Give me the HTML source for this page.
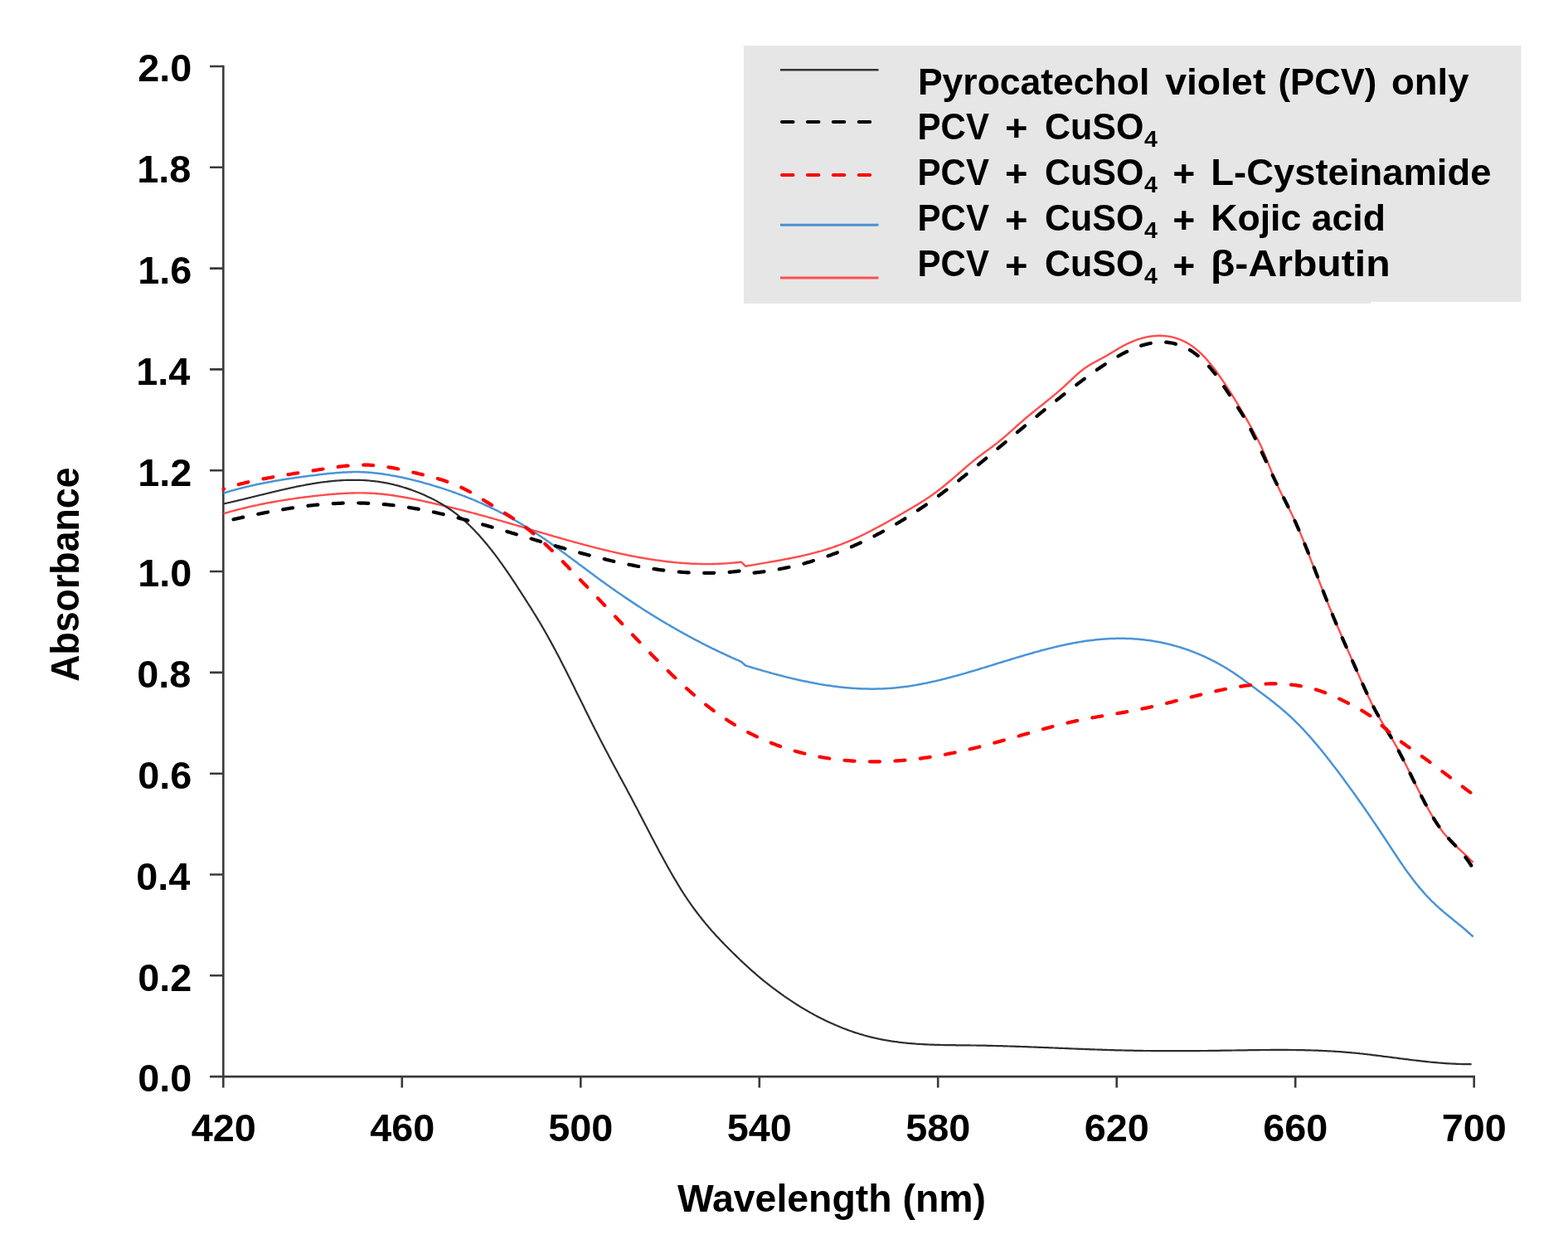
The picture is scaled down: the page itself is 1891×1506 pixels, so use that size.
<!DOCTYPE html><html><head><meta charset="utf-8"><style>html,body{margin:0;padding:0;background:#fff;overflow:hidden}svg{display:block}#w{width:1891px;height:1506px}</style></head><body>
<div id="w">
<svg width="1891" height="1506" viewBox="0 0 1891 1506">
<rect width="1891" height="1506" fill="#fff"/>
<path d="M897,55 H1834.5 V364 H1653 V366 H897 Z" fill="#e6e6e6"/>
<g stroke="#3a3a3a" stroke-width="2.6" fill="none" stroke-linecap="butt">
<path d="M269.3,78.7 V1298.1 H1779.0"/>
<path d="M253,1298.1 H269.3 M253,1176.3 H269.3 M253,1054.5 H269.3 M253,932.7 H269.3 M253,810.9 H269.3 M253,689.0 H269.3 M253,567.2 H269.3 M253,445.4 H269.3 M253,323.6 H269.3 M253,201.8 H269.3 M253,80.0 H269.3 M269.3,1298.1 V1311.5 M484.8,1298.1 V1311.5 M700.3,1298.1 V1311.5 M915.8,1298.1 V1311.5 M1131.2,1298.1 V1311.5 M1346.7,1298.1 V1311.5 M1562.2,1298.1 V1311.5 M1777.7,1298.1 V1311.5 "/>
</g>
<g font-family="Liberation Sans, Arial, sans-serif" font-weight="bold" fill="#000">
<text x="166.30" y="1316.40" font-size="46.8">0.0</text>
<text x="166.30" y="1194.59" font-size="46.8">0.2</text>
<text x="164.30" y="1072.78" font-size="46.8">0.4</text>
<text x="166.30" y="950.97" font-size="46.8">0.6</text>
<text x="165.30" y="829.16" font-size="46.8">0.8</text>
<text x="166.30" y="707.35" font-size="46.8">1.0</text>
<text x="166.30" y="585.54" font-size="46.8">1.2</text>
<text x="164.30" y="463.73" font-size="46.8">1.4</text>
<text x="166.30" y="341.92" font-size="46.8">1.6</text>
<text x="165.30" y="220.11" font-size="46.8">1.8</text>
<text x="166.30" y="98.30" font-size="46.8">2.0</text>
<text x="230.80" y="1376.40" font-size="46.8">420</text>
<text x="446.29" y="1376.40" font-size="46.8">460</text>
<text x="661.27" y="1376.40" font-size="46.8">500</text>
<text x="876.76" y="1376.40" font-size="46.8">540</text>
<text x="1092.24" y="1376.40" font-size="46.8">580</text>
<text x="1307.73" y="1376.40" font-size="46.8">620</text>
<text x="1523.21" y="1376.40" font-size="46.8">660</text>
<text x="1738.70" y="1376.40" font-size="46.8">700</text>
<text x="816.90" y="1461.30" font-size="46" textLength="372.08" lengthAdjust="spacingAndGlyphs">Wavelength (nm)</text>
<text x="94.80" y="821.84" font-size="47.5" textLength="258.38" lengthAdjust="spacingAndGlyphs" transform="rotate(-90 94.80 821.84)">Absorbance</text>
<text x="1106.93" y="113.90" font-size="43.5" textLength="279.34" lengthAdjust="spacingAndGlyphs">Pyrocatechol</text>
<text x="1405.20" y="113.90" font-size="43.5" textLength="121.17" lengthAdjust="spacingAndGlyphs">violet</text>
<text x="1541.59" y="113.90" font-size="43.5" textLength="118.73" lengthAdjust="spacingAndGlyphs">(PCV)</text>
<text x="1677.91" y="113.90" font-size="43.5" textLength="93.53" lengthAdjust="spacingAndGlyphs">only</text>
<text x="1106.60" y="167.90" font-size="43.5" textLength="86.33" lengthAdjust="spacingAndGlyphs">PCV</text>
<text x="1212.14" y="170.40" font-size="43.5" textLength="27.48" lengthAdjust="spacingAndGlyphs">+</text>
<text x="1260.03" y="167.90" font-size="43.5" textLength="119.29" lengthAdjust="spacingAndGlyphs">CuSO</text>
<text x="1380.00" y="176.60" font-size="27.5" textLength="15.91" lengthAdjust="spacingAndGlyphs">4</text>
<text x="1106.60" y="222.90" font-size="43.5" textLength="86.33" lengthAdjust="spacingAndGlyphs">PCV</text>
<text x="1212.14" y="225.40" font-size="43.5" textLength="27.48" lengthAdjust="spacingAndGlyphs">+</text>
<text x="1260.03" y="222.90" font-size="43.5" textLength="119.29" lengthAdjust="spacingAndGlyphs">CuSO</text>
<text x="1380.00" y="231.60" font-size="27.5" textLength="15.91" lengthAdjust="spacingAndGlyphs">4</text>
<text x="1414.27" y="225.40" font-size="43.5" textLength="27.02" lengthAdjust="spacingAndGlyphs">+</text>
<text x="1106.60" y="278.20" font-size="43.5" textLength="86.33" lengthAdjust="spacingAndGlyphs">PCV</text>
<text x="1212.14" y="280.70" font-size="43.5" textLength="27.48" lengthAdjust="spacingAndGlyphs">+</text>
<text x="1260.03" y="278.20" font-size="43.5" textLength="119.29" lengthAdjust="spacingAndGlyphs">CuSO</text>
<text x="1380.00" y="286.90" font-size="27.5" textLength="15.91" lengthAdjust="spacingAndGlyphs">4</text>
<text x="1414.27" y="280.70" font-size="43.5" textLength="27.02" lengthAdjust="spacingAndGlyphs">+</text>
<text x="1106.60" y="333.20" font-size="43.5" textLength="86.33" lengthAdjust="spacingAndGlyphs">PCV</text>
<text x="1212.14" y="335.70" font-size="43.5" textLength="27.48" lengthAdjust="spacingAndGlyphs">+</text>
<text x="1260.03" y="333.20" font-size="43.5" textLength="119.29" lengthAdjust="spacingAndGlyphs">CuSO</text>
<text x="1380.00" y="341.90" font-size="27.5" textLength="15.91" lengthAdjust="spacingAndGlyphs">4</text>
<text x="1414.27" y="335.70" font-size="43.5" textLength="27.02" lengthAdjust="spacingAndGlyphs">+</text>
<text x="1460.37" y="222.90" font-size="43.5" textLength="338.04" lengthAdjust="spacingAndGlyphs">L-Cysteinamide</text>
<text x="1460.22" y="278.20" font-size="43.5" textLength="210.72" lengthAdjust="spacingAndGlyphs">Kojic acid</text>
<text x="1459.98" y="333.20" font-size="43.5" textLength="216.68" lengthAdjust="spacingAndGlyphs">β-Arbutin</text>
</g>
<path d="M941,84.3 H1059.5" stroke="#333" stroke-width="2.6"/>
<path d="M943,146.9 H1051" stroke="#000" stroke-width="4" stroke-linecap="round" stroke-dasharray="13.5 17.4"/>
<path d="M943,210.9 H1051" stroke="#ff0000" stroke-width="4" stroke-linecap="round" stroke-dasharray="13.5 17.4"/>
<path d="M941,271.3 H1059.5" stroke="#4a8fd2" stroke-width="3"/>
<path d="M941,335.0 H1059.5" stroke="#fa4f4f" stroke-width="3"/>
<g fill="none" stroke-linejoin="round">
<path d="M269.5,619.3 L271.0,618.9 L272.5,618.4 L274.0,618.0 L275.5,617.6 L277.0,617.1 L278.5,616.7 L280.0,616.3 L281.5,615.9 L283.0,615.5 L284.5,615.1 L286.0,614.7 L287.5,614.3 L289.0,613.9 L290.5,613.6 L292.0,613.2 L293.5,612.8 L295.0,612.5 L296.5,612.1 L298.0,611.7 L299.5,611.4 L301.0,611.0 L302.5,610.7 L304.0,610.4 L305.5,610.0 L307.0,609.7 L308.5,609.4 L310.0,609.1 L311.5,608.7 L313.0,608.4 L314.5,608.1 L316.0,607.8 L317.5,607.5 L319.0,607.2 L320.5,606.9 L322.0,606.6 L323.5,606.3 L325.0,606.1 L326.5,605.8 L328.0,605.5 L329.5,605.2 L331.0,605.0 L332.5,604.7 L334.0,604.4 L335.5,604.2 L337.0,603.9 L338.5,603.7 L340.0,603.4 L341.5,603.2 L343.0,602.9 L344.5,602.7 L346.0,602.5 L347.5,602.2 L349.0,602.0 L350.5,601.8 L352.0,601.6 L353.5,601.4 L355.0,601.1 L356.5,600.9 L358.0,600.7 L359.5,600.5 L361.0,600.3 L362.5,600.1 L364.0,599.9 L365.5,599.7 L367.0,599.5 L368.5,599.3 L370.0,599.1 L371.5,599.0 L373.0,598.8 L374.5,598.6 L376.0,598.4 L377.5,598.2 L379.0,598.1 L380.5,597.9 L382.0,597.7 L383.5,597.6 L385.0,597.4 L386.5,597.2 L388.0,597.1 L389.5,596.9 L391.0,596.8 L392.5,596.6 L394.0,596.5 L395.5,596.3 L397.0,596.2 L398.5,596.1 L400.0,595.9 L401.5,595.8 L403.0,595.7 L404.5,595.6 L406.0,595.5 L407.5,595.4 L409.0,595.2 L410.5,595.2 L412.0,595.1 L413.5,595.0 L415.0,594.9 L416.5,594.8 L418.0,594.7 L419.5,594.7 L421.0,594.6 L422.5,594.6 L424.0,594.5 L425.5,594.5 L427.0,594.5 L428.5,594.4 L430.0,594.4 L431.5,594.4 L433.0,594.4 L434.5,594.4 L436.0,594.4 L437.5,594.4 L439.0,594.4 L440.5,594.5 L442.0,594.5 L443.5,594.6 L445.0,594.6 L446.5,594.7 L448.0,594.8 L449.5,594.9 L451.0,594.9 L452.5,595.0 L454.0,595.2 L455.5,595.3 L457.0,595.4 L458.5,595.5 L460.0,595.7 L461.5,595.8 L463.0,596.0 L464.5,596.2 L466.0,596.3 L467.5,596.5 L469.0,596.7 L470.5,596.9 L472.0,597.1 L473.5,597.3 L475.0,597.5 L476.5,597.8 L478.0,598.0 L479.5,598.2 L481.0,598.5 L482.5,598.7 L484.0,599.0 L485.5,599.2 L487.0,599.5 L488.5,599.8 L490.0,600.0 L491.5,600.3 L493.0,600.6 L494.5,600.9 L496.0,601.2 L497.5,601.5 L499.0,601.8 L500.5,602.1 L502.0,602.4 L503.5,602.7 L505.0,603.0 L506.5,603.3 L508.0,603.6 L509.5,604.0 L511.0,604.3 L512.5,604.6 L514.0,605.0 L515.5,605.3 L517.0,605.6 L518.5,606.0 L520.0,606.3 L521.5,606.6 L523.0,607.0 L524.5,607.3 L526.0,607.7 L527.5,608.0 L529.0,608.4 L530.5,608.7 L532.0,609.0 L533.5,609.4 L535.0,609.7 L536.5,610.1 L538.0,610.5 L539.5,610.8 L541.0,611.2 L542.5,611.5 L544.0,611.9 L545.5,612.3 L547.0,612.6 L548.5,613.0 L550.0,613.4 L551.5,613.7 L553.0,614.1 L554.5,614.5 L556.0,614.8 L557.5,615.2 L559.0,615.6 L560.5,616.0 L562.0,616.4 L563.5,616.8 L565.0,617.2 L566.5,617.5 L568.0,617.9 L569.5,618.3 L571.0,618.7 L572.5,619.1 L574.0,619.5 L575.5,619.9 L577.0,620.4 L578.5,620.8 L580.0,621.2 L581.5,621.6 L583.0,622.0 L584.5,622.4 L586.0,622.8 L587.5,623.2 L589.0,623.7 L590.5,624.1 L592.0,624.5 L593.5,624.9 L595.0,625.3 L596.5,625.8 L598.0,626.2 L599.5,626.6 L601.0,627.1 L602.5,627.5 L604.0,627.9 L605.5,628.3 L607.0,628.8 L608.5,629.2 L610.0,629.6 L611.5,630.1 L613.0,630.5 L614.5,631.0 L616.0,631.4 L617.5,631.8 L619.0,632.3 L620.5,632.7 L622.0,633.1 L623.5,633.6 L625.0,634.0 L626.5,634.5 L628.0,634.9 L629.5,635.3 L631.0,635.8 L632.5,636.2 L634.0,636.7 L635.5,637.1 L637.0,637.6 L638.5,638.0 L640.0,638.4 L641.5,638.9 L643.0,639.3 L644.5,639.8 L646.0,640.2 L647.5,640.7 L649.0,641.1 L650.5,641.5 L652.0,642.0 L653.5,642.4 L655.0,642.9 L656.5,643.3 L658.0,643.7 L659.5,644.2 L661.0,644.6 L662.5,645.0 L664.0,645.5 L665.5,645.9 L667.0,646.4 L668.5,646.8 L670.0,647.2 L671.5,647.7 L673.0,648.1 L674.5,648.5 L676.0,648.9 L677.5,649.4 L679.0,649.8 L680.5,650.2 L682.0,650.6 L683.5,651.1 L685.0,651.5 L686.5,651.9 L688.0,652.3 L689.5,652.7 L691.0,653.2 L692.5,653.6 L694.0,654.0 L695.5,654.4 L697.0,654.8 L698.5,655.2 L700.0,655.6 L701.5,656.0 L703.0,656.4 L704.5,656.8 L706.0,657.2 L707.5,657.6 L709.0,658.0 L710.5,658.4 L712.0,658.8 L713.5,659.2 L715.0,659.6 L716.5,660.0 L718.0,660.4 L719.5,660.7 L721.0,661.1 L722.5,661.5 L724.0,661.9 L725.5,662.2 L727.0,662.6 L728.5,663.0 L730.0,663.3 L731.5,663.7 L733.0,664.0 L734.5,664.4 L736.0,664.7 L737.5,665.1 L739.0,665.4 L740.5,665.8 L742.0,666.1 L743.5,666.5 L745.0,666.8 L746.5,667.1 L748.0,667.5 L749.5,667.8 L751.0,668.1 L752.5,668.4 L754.0,668.7 L755.5,669.0 L757.0,669.4 L758.5,669.7 L760.0,670.0 L761.5,670.3 L763.0,670.6 L764.5,670.8 L766.0,671.1 L767.5,671.4 L769.0,671.7 L770.5,672.0 L772.0,672.2 L773.5,672.5 L775.0,672.8 L776.5,673.0 L778.0,673.3 L779.5,673.5 L781.0,673.8 L782.5,674.0 L784.0,674.3 L785.5,674.5 L787.0,674.7 L788.5,675.0 L790.0,675.2 L791.5,675.4 L793.0,675.6 L794.5,675.8 L796.0,676.0 L797.5,676.2 L799.0,676.4 L800.5,676.6 L802.0,676.8 L803.5,677.0 L805.0,677.2 L806.5,677.4 L808.0,677.5 L809.5,677.7 L811.0,677.8 L812.5,678.0 L814.0,678.1 L815.5,678.3 L817.0,678.4 L818.5,678.6 L820.0,678.7 L821.5,678.8 L823.0,678.9 L824.5,679.0 L826.0,679.1 L827.5,679.2 L829.0,679.3 L830.5,679.4 L832.0,679.5 L833.5,679.6 L835.0,679.7 L836.5,679.7 L838.0,679.8 L839.5,679.8 L841.0,679.9 L842.5,679.9 L844.0,680.0 L845.5,680.0 L847.0,680.0 L848.5,680.1 L850.0,680.1 L851.5,680.1 L853.0,680.1 L854.5,680.1 L856.0,680.1 L857.5,680.1 L859.0,680.0 L860.5,680.0 L862.0,680.0 L863.5,679.9 L865.0,679.9 L866.5,679.8 L868.0,679.8 L869.5,679.7 L871.0,679.6 L872.5,679.5 L874.0,679.4 L875.5,679.4 L877.0,679.3 L878.5,679.1 L880.0,679.0 L881.5,678.9 L883.0,678.8 L884.5,678.6 L886.0,678.5 L887.5,678.3 L889.0,678.2 L890.5,678.0 L892.0,677.8 L893.5,677.7 L894.0,677.6 L899.0,682.7 L900.5,682.5 L902.0,682.2 L903.5,681.9 L905.0,681.7 L906.5,681.4 L908.0,681.2 L909.5,680.9 L911.0,680.7 L912.5,680.4 L914.0,680.1 L915.5,679.9 L917.0,679.6 L918.5,679.4 L920.0,679.1 L921.5,678.9 L923.0,678.6 L924.5,678.4 L926.0,678.1 L927.5,677.8 L929.0,677.6 L930.5,677.3 L932.0,677.1 L933.5,676.8 L935.0,676.5 L936.5,676.3 L938.0,676.0 L939.5,675.7 L941.0,675.5 L942.5,675.2 L944.0,674.9 L945.5,674.6 L947.0,674.3 L948.5,674.1 L950.0,673.8 L951.5,673.5 L953.0,673.2 L954.5,672.9 L956.0,672.6 L957.5,672.3 L959.0,672.0 L960.5,671.7 L962.0,671.3 L963.5,671.0 L965.0,670.7 L966.5,670.4 L968.0,670.0 L969.5,669.7 L971.0,669.3 L972.5,669.0 L974.0,668.6 L975.5,668.2 L977.0,667.9 L978.5,667.5 L980.0,667.1 L981.5,666.7 L983.0,666.3 L984.5,665.9 L986.0,665.5 L987.5,665.1 L989.0,664.7 L990.5,664.3 L992.0,663.8 L993.5,663.4 L995.0,662.9 L996.5,662.5 L998.0,662.0 L999.5,661.5 L1001.0,661.0 L1002.5,660.6 L1004.0,660.1 L1005.5,659.5 L1007.0,659.0 L1008.5,658.5 L1010.0,658.0 L1011.5,657.4 L1013.0,656.9 L1014.5,656.3 L1016.0,655.7 L1017.5,655.1 L1019.0,654.5 L1020.5,653.9 L1022.0,653.3 L1023.5,652.7 L1025.0,652.1 L1026.5,651.4 L1028.0,650.8 L1029.5,650.1 L1031.0,649.4 L1032.5,648.8 L1034.0,648.1 L1035.5,647.4 L1037.0,646.7 L1038.5,646.0 L1040.0,645.2 L1041.5,644.5 L1043.0,643.8 L1044.5,643.0 L1046.0,642.3 L1047.5,641.5 L1049.0,640.7 L1050.5,640.0 L1052.0,639.2 L1053.5,638.4 L1055.0,637.6 L1056.5,636.8 L1058.0,636.0 L1059.5,635.2 L1061.0,634.4 L1062.5,633.6 L1064.0,632.8 L1065.5,632.0 L1067.0,631.1 L1068.5,630.3 L1070.0,629.5 L1071.5,628.6 L1073.0,627.8 L1074.5,626.9 L1076.0,626.1 L1077.5,625.2 L1079.0,624.4 L1080.5,623.5 L1082.0,622.6 L1083.5,621.8 L1085.0,620.9 L1086.5,620.0 L1088.0,619.2 L1089.5,618.3 L1091.0,617.4 L1092.5,616.6 L1094.0,615.7 L1095.5,614.8 L1097.0,613.9 L1098.5,613.1 L1100.0,612.2 L1101.5,611.3 L1103.0,610.4 L1104.5,609.5 L1106.0,608.6 L1107.5,607.7 L1109.0,606.8 L1110.5,605.9 L1112.0,604.9 L1113.5,604.0 L1115.0,603.0 L1116.5,602.1 L1118.0,601.1 L1119.5,600.1 L1121.0,599.0 L1122.5,598.0 L1124.0,596.9 L1125.5,595.9 L1127.0,594.8 L1128.5,593.7 L1130.0,592.5 L1131.5,591.4 L1133.0,590.2 L1134.5,589.1 L1136.0,587.9 L1137.5,586.7 L1139.0,585.5 L1140.5,584.2 L1142.0,583.0 L1143.5,581.8 L1145.0,580.5 L1146.5,579.2 L1148.0,578.0 L1149.5,576.7 L1151.0,575.4 L1152.5,574.1 L1154.0,572.8 L1155.5,571.5 L1157.0,570.2 L1158.5,568.9 L1160.0,567.6 L1161.5,566.3 L1163.0,565.0 L1164.5,563.7 L1166.0,562.4 L1167.5,561.1 L1169.0,559.8 L1170.5,558.6 L1172.0,557.3 L1173.5,556.1 L1175.0,554.9 L1176.5,553.7 L1178.0,552.5 L1179.5,551.3 L1181.0,550.2 L1182.5,549.1 L1184.0,548.0 L1185.5,546.8 L1187.0,545.7 L1188.5,544.6 L1190.0,543.6 L1191.5,542.5 L1193.0,541.4 L1194.5,540.3 L1196.0,539.2 L1197.5,538.0 L1199.0,536.9 L1200.5,535.8 L1202.0,534.6 L1203.5,533.4 L1205.0,532.2 L1206.5,531.0 L1208.0,529.7 L1209.5,528.5 L1211.0,527.2 L1212.5,525.9 L1214.0,524.6 L1215.5,523.3 L1217.0,521.9 L1218.5,520.6 L1220.0,519.3 L1221.5,517.9 L1223.0,516.6 L1224.5,515.2 L1226.0,513.9 L1227.5,512.5 L1229.0,511.2 L1230.5,509.9 L1232.0,508.6 L1233.5,507.3 L1235.0,506.0 L1236.5,504.7 L1238.0,503.4 L1239.5,502.2 L1241.0,500.9 L1242.5,499.7 L1244.0,498.5 L1245.5,497.3 L1247.0,496.1 L1248.5,494.8 L1250.0,493.6 L1251.5,492.4 L1253.0,491.2 L1254.5,490.0 L1256.0,488.9 L1257.5,487.7 L1259.0,486.5 L1260.5,485.3 L1262.0,484.0 L1263.5,482.8 L1265.0,481.6 L1266.5,480.4 L1268.0,479.2 L1269.5,477.9 L1271.0,476.7 L1272.5,475.4 L1274.0,474.2 L1275.5,472.9 L1277.0,471.6 L1278.5,470.3 L1280.0,469.0 L1281.5,467.6 L1283.0,466.3 L1284.5,464.9 L1286.0,463.5 L1287.5,462.1 L1289.0,460.7 L1290.5,459.3 L1292.0,457.9 L1293.5,456.5 L1295.0,455.1 L1296.5,453.7 L1298.0,452.3 L1299.5,451.0 L1301.0,449.7 L1302.5,448.4 L1304.0,447.2 L1305.5,446.0 L1307.0,444.9 L1308.5,443.8 L1310.0,442.8 L1311.5,441.8 L1313.0,440.8 L1314.5,439.9 L1316.0,439.0 L1317.5,438.1 L1319.0,437.3 L1320.5,436.5 L1322.0,435.7 L1323.5,434.9 L1325.0,434.1 L1326.5,433.3 L1328.0,432.5 L1329.5,431.7 L1331.0,430.9 L1332.5,430.0 L1334.0,429.2 L1335.5,428.3 L1337.0,427.4 L1338.5,426.5 L1340.0,425.6 L1341.5,424.7 L1343.0,423.8 L1344.5,422.9 L1346.0,422.0 L1347.5,421.1 L1349.0,420.2 L1350.5,419.3 L1352.0,418.5 L1353.5,417.6 L1355.0,416.8 L1356.5,416.0 L1358.0,415.3 L1359.5,414.5 L1361.0,413.8 L1362.5,413.1 L1364.0,412.5 L1365.5,411.8 L1367.0,411.2 L1368.5,410.6 L1370.0,410.1 L1371.5,409.5 L1373.0,409.0 L1374.5,408.6 L1376.0,408.1 L1377.5,407.7 L1379.0,407.3 L1380.5,406.9 L1382.0,406.6 L1383.5,406.3 L1385.0,406.0 L1386.5,405.8 L1388.0,405.5 L1389.5,405.4 L1391.0,405.2 L1392.5,405.1 L1394.0,405.0 L1395.5,404.9 L1397.0,404.8 L1398.5,404.8 L1400.0,404.8 L1401.5,404.9 L1403.0,405.0 L1404.5,405.1 L1406.0,405.2 L1407.5,405.4 L1409.0,405.6 L1410.5,405.8 L1412.0,406.1 L1413.5,406.4 L1415.0,406.8 L1416.5,407.2 L1418.0,407.6 L1419.5,408.1 L1421.0,408.6 L1422.5,409.2 L1424.0,409.8 L1425.5,410.4 L1427.0,411.1 L1428.5,411.9 L1430.0,412.6 L1431.5,413.5 L1433.0,414.3 L1434.5,415.3 L1436.0,416.2 L1437.5,417.3 L1439.0,418.3 L1440.5,419.5 L1442.0,420.6 L1443.5,421.9 L1445.0,423.2 L1446.5,424.5 L1448.0,425.9 L1449.5,427.3 L1451.0,428.9 L1452.5,430.4 L1454.0,432.0 L1455.5,433.7 L1457.0,435.4 L1458.5,437.2 L1460.0,439.0 L1461.5,440.9 L1463.0,442.8 L1464.5,444.8 L1466.0,446.8 L1467.5,448.8 L1469.0,450.9 L1470.5,453.0 L1472.0,455.2 L1473.5,457.3 L1475.0,459.6 L1476.5,461.8 L1478.0,464.1 L1479.5,466.3 L1481.0,468.7 L1482.5,471.0 L1484.0,473.3 L1485.5,475.7 L1487.0,478.1 L1488.5,480.5 L1490.0,483.0 L1491.5,485.4 L1493.0,487.9 L1494.5,490.4 L1496.0,492.9 L1497.5,495.4 L1499.0,498.0 L1500.5,500.5 L1502.0,503.1 L1503.5,505.7 L1505.0,508.3 L1506.5,511.0 L1508.0,513.7 L1509.5,516.3 L1511.0,519.0 L1512.5,521.8 L1514.0,524.5 L1515.5,527.3 L1517.0,530.2 L1518.5,533.2 L1520.0,536.3 L1521.5,539.5 L1523.0,542.9 L1524.5,546.4 L1526.0,550.0 L1527.5,553.7 L1529.0,557.4 L1530.5,561.2 L1532.0,564.9 L1533.5,568.7 L1535.0,572.3 L1536.5,576.0 L1538.0,579.5 L1539.5,582.9 L1541.0,586.2 L1542.5,589.3 L1544.0,592.5 L1545.5,595.5 L1547.0,598.5 L1548.5,601.5 L1550.0,604.4 L1551.5,607.3 L1553.0,610.2 L1554.5,613.2 L1556.0,616.2 L1557.5,619.2 L1559.0,622.2 L1560.5,625.4 L1562.0,628.6 L1563.5,631.9 L1565.0,635.3 L1566.5,638.8 L1568.0,642.4 L1569.5,646.0 L1571.0,649.7 L1572.5,653.4 L1574.0,657.2 L1575.5,661.0 L1577.0,664.9 L1578.5,668.8 L1580.0,672.7 L1581.5,676.6 L1583.0,680.5 L1584.5,684.4 L1586.0,688.3 L1587.5,692.2 L1589.0,696.0 L1590.5,699.9 L1592.0,703.7 L1593.5,707.5 L1595.0,711.3 L1596.5,715.1 L1598.0,718.9 L1599.5,722.6 L1601.0,726.3 L1602.5,730.0 L1604.0,733.7 L1605.5,737.3 L1607.0,741.0 L1608.5,744.6 L1610.0,748.1 L1611.5,751.7 L1613.0,755.2 L1614.5,758.7 L1616.0,762.2 L1617.5,765.7 L1619.0,769.2 L1620.5,772.6 L1622.0,776.1 L1623.5,779.5 L1625.0,782.9 L1626.5,786.4 L1628.0,789.8 L1629.5,793.2 L1631.0,796.6 L1632.5,800.1 L1634.0,803.5 L1635.5,807.0 L1637.0,810.4 L1638.5,813.8 L1640.0,817.3 L1641.5,820.7 L1643.0,824.1 L1644.5,827.4 L1646.0,830.7 L1647.5,834.0 L1649.0,837.3 L1650.5,840.5 L1652.0,843.6 L1653.5,846.7 L1655.0,849.7 L1656.5,852.6 L1658.0,855.5 L1659.5,858.3 L1661.0,861.0 L1662.5,863.6 L1664.0,866.2 L1665.5,868.8 L1667.0,871.3 L1668.5,873.8 L1670.0,876.2 L1671.5,878.7 L1673.0,881.2 L1674.5,883.7 L1676.0,886.1 L1677.5,888.7 L1679.0,891.2 L1680.5,893.8 L1682.0,896.5 L1683.5,899.2 L1685.0,901.9 L1686.5,904.7 L1688.0,907.6 L1689.5,910.5 L1691.0,913.4 L1692.5,916.3 L1694.0,919.3 L1695.5,922.3 L1697.0,925.3 L1698.5,928.3 L1700.0,931.3 L1701.5,934.4 L1703.0,937.4 L1704.5,940.5 L1706.0,943.5 L1707.5,946.5 L1709.0,949.5 L1710.5,952.5 L1712.0,955.5 L1713.5,958.5 L1715.0,961.4 L1716.5,964.3 L1718.0,967.2 L1719.5,970.0 L1721.0,972.8 L1722.5,975.6 L1724.0,978.3 L1725.5,980.9 L1727.0,983.5 L1728.5,986.0 L1730.0,988.5 L1731.5,990.9 L1733.0,993.2 L1734.5,995.5 L1736.0,997.6 L1737.5,999.7 L1739.0,1001.7 L1740.5,1003.7 L1742.0,1005.5 L1743.5,1007.3 L1745.0,1009.0 L1746.5,1010.7 L1748.0,1012.3 L1749.5,1013.9 L1751.0,1015.4 L1752.5,1016.9 L1754.0,1018.4 L1755.5,1019.8 L1757.0,1021.2 L1758.5,1022.6 L1760.0,1024.0 L1761.5,1025.4 L1763.0,1026.8 L1764.5,1028.2 L1766.0,1029.6 L1767.5,1031.0 L1769.0,1032.4 L1770.5,1033.8 L1772.0,1035.3 L1773.5,1036.8 L1775.0,1038.3 L1776.5,1039.9 L1776.6,1040.0" stroke="#ff4d4d" stroke-width="2.4"/>
<path d="M269.5,607.5 L271.0,607.2 L272.5,606.8 L274.0,606.5 L275.5,606.2 L277.0,605.8 L278.5,605.5 L280.0,605.1 L281.5,604.8 L283.0,604.4 L284.5,604.1 L286.0,603.7 L287.5,603.4 L289.0,603.0 L290.5,602.7 L292.0,602.3 L293.5,602.0 L295.0,601.6 L296.5,601.2 L298.0,600.9 L299.5,600.5 L301.0,600.1 L302.5,599.8 L304.0,599.4 L305.5,599.0 L307.0,598.7 L308.5,598.3 L310.0,597.9 L311.5,597.5 L313.0,597.2 L314.5,596.8 L316.0,596.4 L317.5,596.1 L319.0,595.7 L320.5,595.3 L322.0,595.0 L323.5,594.6 L325.0,594.2 L326.5,593.9 L328.0,593.5 L329.5,593.1 L331.0,592.8 L332.5,592.4 L334.0,592.1 L335.5,591.7 L337.0,591.4 L338.5,591.0 L340.0,590.7 L341.5,590.3 L343.0,590.0 L344.5,589.6 L346.0,589.3 L347.5,589.0 L349.0,588.6 L350.5,588.3 L352.0,588.0 L353.5,587.7 L355.0,587.4 L356.5,587.0 L358.0,586.7 L359.5,586.4 L361.0,586.1 L362.5,585.8 L364.0,585.5 L365.5,585.3 L367.0,585.0 L368.5,584.7 L370.0,584.4 L371.5,584.1 L373.0,583.9 L374.5,583.6 L376.0,583.4 L377.5,583.1 L379.0,582.9 L380.5,582.6 L382.0,582.4 L383.5,582.2 L385.0,582.0 L386.5,581.7 L388.0,581.5 L389.5,581.3 L391.0,581.1 L392.5,581.0 L394.0,580.8 L395.5,580.6 L397.0,580.4 L398.5,580.3 L400.0,580.1 L401.5,580.0 L403.0,579.8 L404.5,579.7 L406.0,579.6 L407.5,579.5 L409.0,579.4 L410.5,579.3 L412.0,579.2 L413.5,579.1 L415.0,579.0 L416.5,579.0 L418.0,578.9 L419.5,578.9 L421.0,578.8 L422.5,578.8 L424.0,578.8 L425.5,578.8 L427.0,578.8 L428.5,578.8 L430.0,578.8 L431.5,578.8 L433.0,578.8 L434.5,578.9 L436.0,579.0 L437.5,579.0 L439.0,579.1 L440.5,579.2 L442.0,579.3 L443.5,579.4 L445.0,579.5 L446.5,579.7 L448.0,579.8 L449.5,580.0 L451.0,580.1 L452.5,580.3 L454.0,580.5 L455.5,580.7 L457.0,580.9 L458.5,581.1 L460.0,581.4 L461.5,581.6 L463.0,581.9 L464.5,582.2 L466.0,582.4 L467.5,582.7 L469.0,583.0 L470.5,583.4 L472.0,583.7 L473.5,584.0 L475.0,584.4 L476.5,584.8 L478.0,585.1 L479.5,585.5 L481.0,585.9 L482.5,586.4 L484.0,586.8 L485.5,587.2 L487.0,587.7 L488.5,588.1 L490.0,588.6 L491.5,589.1 L493.0,589.6 L494.5,590.1 L496.0,590.6 L497.5,591.2 L499.0,591.7 L500.5,592.3 L502.0,592.9 L503.5,593.5 L505.0,594.1 L506.5,594.7 L508.0,595.3 L509.5,596.0 L511.0,596.6 L512.5,597.3 L514.0,598.0 L515.5,598.7 L517.0,599.4 L518.5,600.1 L520.0,600.8 L521.5,601.6 L523.0,602.3 L524.5,603.1 L526.0,603.9 L527.5,604.7 L529.0,605.6 L530.5,606.4 L532.0,607.3 L533.5,608.2 L535.0,609.1 L536.5,610.0 L538.0,611.0 L539.5,612.0 L541.0,613.0 L542.5,614.0 L544.0,615.0 L545.5,616.1 L547.0,617.2 L548.5,618.3 L550.0,619.4 L551.5,620.6 L553.0,621.8 L554.5,623.0 L556.0,624.2 L557.5,625.5 L559.0,626.8 L560.5,628.1 L562.0,629.5 L563.5,630.9 L565.0,632.3 L566.5,633.7 L568.0,635.2 L569.5,636.7 L571.0,638.2 L572.5,639.8 L574.0,641.4 L575.5,643.0 L577.0,644.6 L578.5,646.3 L580.0,648.0 L581.5,649.7 L583.0,651.4 L584.5,653.2 L586.0,655.0 L587.5,656.8 L589.0,658.6 L590.5,660.5 L592.0,662.4 L593.5,664.3 L595.0,666.2 L596.5,668.2 L598.0,670.2 L599.5,672.2 L601.0,674.2 L602.5,676.3 L604.0,678.3 L605.5,680.4 L607.0,682.6 L608.5,684.7 L610.0,686.9 L611.5,689.0 L613.0,691.2 L614.5,693.4 L616.0,695.7 L617.5,697.9 L619.0,700.2 L620.5,702.4 L622.0,704.7 L623.5,707.0 L625.0,709.3 L626.5,711.6 L628.0,713.9 L629.5,716.3 L631.0,718.6 L632.5,720.9 L634.0,723.3 L635.5,725.6 L637.0,728.0 L638.5,730.3 L640.0,732.7 L641.5,735.1 L643.0,737.5 L644.5,740.0 L646.0,742.4 L647.5,744.9 L649.0,747.3 L650.5,749.8 L652.0,752.3 L653.5,754.9 L655.0,757.5 L656.5,760.0 L658.0,762.7 L659.5,765.3 L661.0,768.0 L662.5,770.7 L664.0,773.4 L665.5,776.2 L667.0,778.9 L668.5,781.7 L670.0,784.5 L671.5,787.4 L673.0,790.3 L674.5,793.1 L676.0,796.0 L677.5,799.0 L679.0,801.9 L680.5,804.8 L682.0,807.8 L683.5,810.8 L685.0,813.8 L686.5,816.8 L688.0,819.8 L689.5,822.8 L691.0,825.8 L692.5,828.8 L694.0,831.9 L695.5,834.9 L697.0,837.9 L698.5,841.0 L700.0,844.0 L701.5,847.1 L703.0,850.1 L704.5,853.1 L706.0,856.2 L707.5,859.2 L709.0,862.2 L710.5,865.2 L712.0,868.3 L713.5,871.3 L715.0,874.2 L716.5,877.2 L718.0,880.2 L719.5,883.1 L721.0,886.1 L722.5,889.0 L724.0,891.9 L725.5,894.8 L727.0,897.7 L728.5,900.6 L730.0,903.5 L731.5,906.3 L733.0,909.1 L734.5,912.0 L736.0,914.8 L737.5,917.6 L739.0,920.4 L740.5,923.2 L742.0,926.0 L743.5,928.8 L745.0,931.6 L746.5,934.4 L748.0,937.2 L749.5,939.9 L751.0,942.7 L752.5,945.5 L754.0,948.3 L755.5,951.1 L757.0,953.9 L758.5,956.7 L760.0,959.5 L761.5,962.3 L763.0,965.2 L764.5,968.0 L766.0,970.9 L767.5,973.7 L769.0,976.6 L770.5,979.5 L772.0,982.4 L773.5,985.3 L775.0,988.2 L776.5,991.1 L778.0,993.9 L779.5,996.8 L781.0,999.7 L782.5,1002.6 L784.0,1005.5 L785.5,1008.4 L787.0,1011.2 L788.5,1014.1 L790.0,1017.0 L791.5,1019.8 L793.0,1022.6 L794.5,1025.4 L796.0,1028.2 L797.5,1031.0 L799.0,1033.8 L800.5,1036.6 L802.0,1039.3 L803.5,1042.0 L805.0,1044.7 L806.5,1047.4 L808.0,1050.0 L809.5,1052.7 L811.0,1055.3 L812.5,1057.9 L814.0,1060.4 L815.5,1062.9 L817.0,1065.4 L818.5,1067.9 L820.0,1070.4 L821.5,1072.8 L823.0,1075.1 L824.5,1077.5 L826.0,1079.8 L827.5,1082.0 L829.0,1084.3 L830.5,1086.5 L832.0,1088.6 L833.5,1090.8 L835.0,1092.9 L836.5,1095.0 L838.0,1097.0 L839.5,1099.0 L841.0,1101.0 L842.5,1103.0 L844.0,1104.9 L845.5,1106.8 L847.0,1108.7 L848.5,1110.5 L850.0,1112.4 L851.5,1114.2 L853.0,1115.9 L854.5,1117.7 L856.0,1119.4 L857.5,1121.2 L859.0,1122.9 L860.5,1124.5 L862.0,1126.2 L863.5,1127.9 L865.0,1129.5 L866.5,1131.1 L868.0,1132.7 L869.5,1134.3 L871.0,1135.9 L872.5,1137.4 L874.0,1139.0 L875.5,1140.5 L877.0,1142.0 L878.5,1143.5 L880.0,1145.0 L881.5,1146.5 L883.0,1148.0 L884.5,1149.5 L886.0,1150.9 L887.5,1152.4 L889.0,1153.9 L890.5,1155.3 L892.0,1156.8 L893.5,1158.2 L895.0,1159.6 L896.5,1161.0 L898.0,1162.4 L899.5,1163.8 L901.0,1165.2 L902.5,1166.5 L904.0,1167.9 L905.5,1169.3 L907.0,1170.6 L908.5,1171.9 L910.0,1173.2 L911.5,1174.5 L913.0,1175.8 L914.5,1177.1 L916.0,1178.3 L917.5,1179.6 L919.0,1180.8 L920.5,1182.1 L922.0,1183.3 L923.5,1184.5 L925.0,1185.7 L926.5,1186.9 L928.0,1188.0 L929.5,1189.2 L931.0,1190.3 L932.5,1191.5 L934.0,1192.6 L935.5,1193.7 L937.0,1194.8 L938.5,1195.9 L940.0,1197.0 L941.5,1198.1 L943.0,1199.2 L944.5,1200.2 L946.0,1201.3 L947.5,1202.3 L949.0,1203.4 L950.5,1204.4 L952.0,1205.4 L953.5,1206.4 L955.0,1207.4 L956.5,1208.4 L958.0,1209.3 L959.5,1210.3 L961.0,1211.3 L962.5,1212.2 L964.0,1213.1 L965.5,1214.1 L967.0,1215.0 L968.5,1215.9 L970.0,1216.8 L971.5,1217.6 L973.0,1218.5 L974.5,1219.4 L976.0,1220.2 L977.5,1221.1 L979.0,1221.9 L980.5,1222.7 L982.0,1223.6 L983.5,1224.4 L985.0,1225.2 L986.5,1226.0 L988.0,1226.7 L989.5,1227.5 L991.0,1228.3 L992.5,1229.0 L994.0,1229.7 L995.5,1230.5 L997.0,1231.2 L998.5,1231.9 L1000.0,1232.6 L1001.5,1233.3 L1003.0,1234.0 L1004.5,1234.6 L1006.0,1235.3 L1007.5,1236.0 L1009.0,1236.6 L1010.5,1237.2 L1012.0,1237.8 L1013.5,1238.5 L1015.0,1239.1 L1016.5,1239.7 L1018.0,1240.2 L1019.5,1240.8 L1021.0,1241.4 L1022.5,1241.9 L1024.0,1242.5 L1025.5,1243.0 L1027.0,1243.5 L1028.5,1244.1 L1030.0,1244.6 L1031.5,1245.1 L1033.0,1245.5 L1034.5,1246.0 L1036.0,1246.5 L1037.5,1246.9 L1039.0,1247.4 L1040.5,1247.8 L1042.0,1248.3 L1043.5,1248.7 L1045.0,1249.1 L1046.5,1249.5 L1048.0,1249.9 L1049.5,1250.3 L1051.0,1250.6 L1052.5,1251.0 L1054.0,1251.4 L1055.5,1251.7 L1057.0,1252.0 L1058.5,1252.4 L1060.0,1252.7 L1061.5,1253.0 L1063.0,1253.3 L1064.5,1253.6 L1066.0,1253.9 L1067.5,1254.1 L1069.0,1254.4 L1070.5,1254.6 L1072.0,1254.9 L1073.5,1255.1 L1075.0,1255.4 L1076.5,1255.6 L1078.0,1255.8 L1079.5,1256.0 L1081.0,1256.2 L1082.5,1256.4 L1084.0,1256.6 L1085.5,1256.8 L1087.0,1257.0 L1088.5,1257.2 L1090.0,1257.3 L1091.5,1257.5 L1093.0,1257.6 L1094.5,1257.8 L1096.0,1257.9 L1097.5,1258.1 L1099.0,1258.2 L1100.5,1258.3 L1102.0,1258.4 L1103.5,1258.5 L1105.0,1258.7 L1106.5,1258.8 L1108.0,1258.9 L1109.5,1258.9 L1111.0,1259.0 L1112.5,1259.1 L1114.0,1259.2 L1115.5,1259.3 L1117.0,1259.4 L1118.5,1259.4 L1120.0,1259.5 L1121.5,1259.6 L1123.0,1259.6 L1124.5,1259.7 L1126.0,1259.7 L1127.5,1259.8 L1129.0,1259.8 L1130.5,1259.9 L1132.0,1259.9 L1133.5,1259.9 L1135.0,1260.0 L1136.5,1260.0 L1138.0,1260.0 L1139.5,1260.1 L1141.0,1260.1 L1142.5,1260.1 L1144.0,1260.1 L1145.5,1260.2 L1147.0,1260.2 L1148.5,1260.2 L1150.0,1260.2 L1151.5,1260.2 L1153.0,1260.3 L1154.5,1260.3 L1156.0,1260.3 L1157.5,1260.3 L1159.0,1260.3 L1160.5,1260.3 L1162.0,1260.4 L1163.5,1260.4 L1165.0,1260.4 L1166.5,1260.4 L1168.0,1260.4 L1169.5,1260.4 L1171.0,1260.5 L1172.5,1260.5 L1174.0,1260.5 L1175.5,1260.5 L1177.0,1260.5 L1178.5,1260.6 L1180.0,1260.6 L1181.5,1260.6 L1183.0,1260.6 L1184.5,1260.7 L1186.0,1260.7 L1187.5,1260.7 L1189.0,1260.7 L1190.5,1260.8 L1192.0,1260.8 L1193.5,1260.8 L1195.0,1260.9 L1196.5,1260.9 L1198.0,1261.0 L1199.5,1261.0 L1201.0,1261.0 L1202.5,1261.1 L1204.0,1261.1 L1205.5,1261.1 L1207.0,1261.2 L1208.5,1261.2 L1210.0,1261.3 L1211.5,1261.3 L1213.0,1261.4 L1214.5,1261.4 L1216.0,1261.5 L1217.5,1261.5 L1219.0,1261.6 L1220.5,1261.6 L1222.0,1261.7 L1223.5,1261.7 L1225.0,1261.8 L1226.5,1261.8 L1228.0,1261.9 L1229.5,1261.9 L1231.0,1262.0 L1232.5,1262.0 L1234.0,1262.1 L1235.5,1262.1 L1237.0,1262.2 L1238.5,1262.2 L1240.0,1262.3 L1241.5,1262.4 L1243.0,1262.4 L1244.5,1262.5 L1246.0,1262.5 L1247.5,1262.6 L1249.0,1262.6 L1250.5,1262.7 L1252.0,1262.8 L1253.5,1262.8 L1255.0,1262.9 L1256.5,1262.9 L1258.0,1263.0 L1259.5,1263.1 L1261.0,1263.1 L1262.5,1263.2 L1264.0,1263.2 L1265.5,1263.3 L1267.0,1263.4 L1268.5,1263.4 L1270.0,1263.5 L1271.5,1263.5 L1273.0,1263.6 L1274.5,1263.7 L1276.0,1263.7 L1277.5,1263.8 L1279.0,1263.9 L1280.5,1263.9 L1282.0,1264.0 L1283.5,1264.0 L1285.0,1264.1 L1286.5,1264.2 L1288.0,1264.2 L1289.5,1264.3 L1291.0,1264.3 L1292.5,1264.4 L1294.0,1264.5 L1295.5,1264.5 L1297.0,1264.6 L1298.5,1264.6 L1300.0,1264.7 L1301.5,1264.8 L1303.0,1264.8 L1304.5,1264.9 L1306.0,1264.9 L1307.5,1265.0 L1309.0,1265.1 L1310.5,1265.1 L1312.0,1265.2 L1313.5,1265.2 L1315.0,1265.3 L1316.5,1265.3 L1318.0,1265.4 L1319.5,1265.4 L1321.0,1265.5 L1322.5,1265.5 L1324.0,1265.6 L1325.5,1265.6 L1327.0,1265.7 L1328.5,1265.7 L1330.0,1265.8 L1331.5,1265.8 L1333.0,1265.9 L1334.5,1265.9 L1336.0,1266.0 L1337.5,1266.0 L1339.0,1266.1 L1340.5,1266.1 L1342.0,1266.2 L1343.5,1266.2 L1345.0,1266.3 L1346.5,1266.3 L1348.0,1266.3 L1349.5,1266.4 L1351.0,1266.4 L1352.5,1266.4 L1354.0,1266.5 L1355.5,1266.5 L1357.0,1266.6 L1358.5,1266.6 L1360.0,1266.6 L1361.5,1266.7 L1363.0,1266.7 L1364.5,1266.7 L1366.0,1266.7 L1367.5,1266.8 L1369.0,1266.8 L1370.5,1266.8 L1372.0,1266.8 L1373.5,1266.9 L1375.0,1266.9 L1376.5,1266.9 L1378.0,1266.9 L1379.5,1267.0 L1381.0,1267.0 L1382.5,1267.0 L1384.0,1267.0 L1385.5,1267.0 L1387.0,1267.0 L1388.5,1267.1 L1390.0,1267.1 L1391.5,1267.1 L1393.0,1267.1 L1394.5,1267.1 L1396.0,1267.1 L1397.5,1267.1 L1399.0,1267.1 L1400.5,1267.1 L1402.0,1267.2 L1403.5,1267.2 L1405.0,1267.2 L1406.5,1267.2 L1408.0,1267.2 L1409.5,1267.2 L1411.0,1267.2 L1412.5,1267.2 L1414.0,1267.2 L1415.5,1267.2 L1417.0,1267.2 L1418.5,1267.2 L1420.0,1267.2 L1421.5,1267.2 L1423.0,1267.2 L1424.5,1267.2 L1426.0,1267.2 L1427.5,1267.2 L1429.0,1267.2 L1430.5,1267.2 L1432.0,1267.2 L1433.5,1267.1 L1435.0,1267.1 L1436.5,1267.1 L1438.0,1267.1 L1439.5,1267.1 L1441.0,1267.1 L1442.5,1267.1 L1444.0,1267.1 L1445.5,1267.1 L1447.0,1267.1 L1448.5,1267.0 L1450.0,1267.0 L1451.5,1267.0 L1453.0,1267.0 L1454.5,1267.0 L1456.0,1267.0 L1457.5,1266.9 L1459.0,1266.9 L1460.5,1266.9 L1462.0,1266.9 L1463.5,1266.9 L1465.0,1266.9 L1466.5,1266.8 L1468.0,1266.8 L1469.5,1266.8 L1471.0,1266.8 L1472.5,1266.7 L1474.0,1266.7 L1475.5,1266.7 L1477.0,1266.7 L1478.5,1266.7 L1480.0,1266.6 L1481.5,1266.6 L1483.0,1266.6 L1484.5,1266.6 L1486.0,1266.5 L1487.5,1266.5 L1489.0,1266.5 L1490.5,1266.5 L1492.0,1266.4 L1493.5,1266.4 L1495.0,1266.4 L1496.5,1266.4 L1498.0,1266.3 L1499.5,1266.3 L1501.0,1266.3 L1502.5,1266.3 L1504.0,1266.3 L1505.5,1266.2 L1507.0,1266.2 L1508.5,1266.2 L1510.0,1266.2 L1511.5,1266.1 L1513.0,1266.1 L1514.5,1266.1 L1516.0,1266.1 L1517.5,1266.1 L1519.0,1266.1 L1520.5,1266.0 L1522.0,1266.0 L1523.5,1266.0 L1525.0,1266.0 L1526.5,1266.0 L1528.0,1266.0 L1529.5,1266.0 L1531.0,1266.0 L1532.5,1265.9 L1534.0,1265.9 L1535.5,1265.9 L1537.0,1265.9 L1538.5,1265.9 L1540.0,1265.9 L1541.5,1265.9 L1543.0,1265.9 L1544.5,1265.9 L1546.0,1265.9 L1547.5,1265.9 L1549.0,1265.9 L1550.5,1265.9 L1552.0,1265.9 L1553.5,1265.9 L1555.0,1266.0 L1556.5,1266.0 L1558.0,1266.0 L1559.5,1266.0 L1561.0,1266.0 L1562.5,1266.0 L1564.0,1266.1 L1565.5,1266.1 L1567.0,1266.1 L1568.5,1266.1 L1570.0,1266.2 L1571.5,1266.2 L1573.0,1266.2 L1574.5,1266.3 L1576.0,1266.3 L1577.5,1266.3 L1579.0,1266.4 L1580.5,1266.4 L1582.0,1266.5 L1583.5,1266.5 L1585.0,1266.6 L1586.5,1266.6 L1588.0,1266.7 L1589.5,1266.7 L1591.0,1266.8 L1592.5,1266.8 L1594.0,1266.9 L1595.5,1267.0 L1597.0,1267.1 L1598.5,1267.1 L1600.0,1267.2 L1601.5,1267.3 L1603.0,1267.4 L1604.5,1267.4 L1606.0,1267.5 L1607.5,1267.6 L1609.0,1267.7 L1610.5,1267.8 L1612.0,1267.9 L1613.5,1268.0 L1615.0,1268.1 L1616.5,1268.2 L1618.0,1268.3 L1619.5,1268.4 L1621.0,1268.6 L1622.5,1268.7 L1624.0,1268.8 L1625.5,1268.9 L1627.0,1269.1 L1628.5,1269.2 L1630.0,1269.3 L1631.5,1269.5 L1633.0,1269.6 L1634.5,1269.7 L1636.0,1269.9 L1637.5,1270.0 L1639.0,1270.2 L1640.5,1270.4 L1642.0,1270.5 L1643.5,1270.7 L1645.0,1270.9 L1646.5,1271.0 L1648.0,1271.2 L1649.5,1271.4 L1651.0,1271.5 L1652.5,1271.7 L1654.0,1271.9 L1655.5,1272.1 L1657.0,1272.3 L1658.5,1272.4 L1660.0,1272.6 L1661.5,1272.8 L1663.0,1273.0 L1664.5,1273.2 L1666.0,1273.4 L1667.5,1273.6 L1669.0,1273.8 L1670.5,1274.0 L1672.0,1274.1 L1673.5,1274.3 L1675.0,1274.5 L1676.5,1274.7 L1678.0,1274.9 L1679.5,1275.1 L1681.0,1275.3 L1682.5,1275.5 L1684.0,1275.7 L1685.5,1275.9 L1687.0,1276.1 L1688.5,1276.3 L1690.0,1276.5 L1691.5,1276.7 L1693.0,1276.9 L1694.5,1277.1 L1696.0,1277.2 L1697.5,1277.4 L1699.0,1277.6 L1700.5,1277.8 L1702.0,1278.0 L1703.5,1278.2 L1705.0,1278.3 L1706.5,1278.5 L1708.0,1278.7 L1709.5,1278.9 L1711.0,1279.1 L1712.5,1279.2 L1714.0,1279.4 L1715.5,1279.6 L1717.0,1279.7 L1718.5,1279.9 L1720.0,1280.1 L1721.5,1280.2 L1723.0,1280.4 L1724.5,1280.5 L1726.0,1280.7 L1727.5,1280.8 L1729.0,1280.9 L1730.5,1281.1 L1732.0,1281.2 L1733.5,1281.3 L1735.0,1281.5 L1736.5,1281.6 L1738.0,1281.7 L1739.5,1281.8 L1741.0,1281.9 L1742.5,1282.1 L1744.0,1282.2 L1745.5,1282.3 L1747.0,1282.3 L1748.5,1282.4 L1750.0,1282.5 L1751.5,1282.6 L1753.0,1282.7 L1754.5,1282.7 L1756.0,1282.8 L1757.5,1282.9 L1759.0,1282.9 L1760.5,1283.0 L1762.0,1283.0 L1763.5,1283.1 L1765.0,1283.1 L1766.5,1283.1 L1768.0,1283.1 L1769.5,1283.1 L1771.0,1283.2 L1772.5,1283.2 L1774.0,1283.2 L1774.6,1283.1" stroke="#2e2e2e" stroke-width="2.2"/>
<path d="M269.5,594.6 L271.0,594.2 L272.5,593.7 L274.0,593.3 L275.5,592.8 L277.0,592.4 L278.5,591.9 L280.0,591.5 L281.5,591.1 L283.0,590.7 L284.5,590.3 L286.0,589.9 L287.5,589.5 L289.0,589.1 L290.5,588.7 L292.0,588.3 L293.5,587.9 L295.0,587.6 L296.5,587.2 L298.0,586.8 L299.5,586.5 L301.0,586.1 L302.5,585.8 L304.0,585.4 L305.5,585.1 L307.0,584.8 L308.5,584.4 L310.0,584.1 L311.5,583.8 L313.0,583.5 L314.5,583.2 L316.0,582.9 L317.5,582.6 L319.0,582.3 L320.5,582.0 L322.0,581.7 L323.5,581.4 L325.0,581.1 L326.5,580.9 L328.0,580.6 L329.5,580.3 L331.0,580.1 L332.5,579.8 L334.0,579.5 L335.5,579.3 L337.0,579.0 L338.5,578.8 L340.0,578.5 L341.5,578.3 L343.0,578.1 L344.5,577.8 L346.0,577.6 L347.5,577.4 L349.0,577.1 L350.5,576.9 L352.0,576.7 L353.5,576.5 L355.0,576.2 L356.5,576.0 L358.0,575.8 L359.5,575.6 L361.0,575.4 L362.5,575.2 L364.0,575.0 L365.5,574.8 L367.0,574.6 L368.5,574.4 L370.0,574.2 L371.5,574.0 L373.0,573.8 L374.5,573.6 L376.0,573.4 L377.5,573.2 L379.0,573.1 L380.5,572.9 L382.0,572.7 L383.5,572.5 L385.0,572.3 L386.5,572.1 L388.0,572.0 L389.5,571.8 L391.0,571.6 L392.5,571.5 L394.0,571.3 L395.5,571.1 L397.0,571.0 L398.5,570.8 L400.0,570.7 L401.5,570.5 L403.0,570.4 L404.5,570.3 L406.0,570.1 L407.5,570.0 L409.0,569.9 L410.5,569.8 L412.0,569.7 L413.5,569.6 L415.0,569.5 L416.5,569.4 L418.0,569.4 L419.5,569.3 L421.0,569.2 L422.5,569.2 L424.0,569.2 L425.5,569.1 L427.0,569.1 L428.5,569.1 L430.0,569.1 L431.5,569.1 L433.0,569.1 L434.5,569.2 L436.0,569.2 L437.5,569.3 L439.0,569.3 L440.5,569.4 L442.0,569.5 L443.5,569.6 L445.0,569.7 L446.5,569.8 L448.0,569.9 L449.5,570.1 L451.0,570.2 L452.5,570.4 L454.0,570.5 L455.5,570.7 L457.0,570.9 L458.5,571.1 L460.0,571.3 L461.5,571.5 L463.0,571.7 L464.5,571.9 L466.0,572.2 L467.5,572.4 L469.0,572.6 L470.5,572.9 L472.0,573.2 L473.5,573.4 L475.0,573.7 L476.5,574.0 L478.0,574.3 L479.5,574.6 L481.0,574.9 L482.5,575.2 L484.0,575.5 L485.5,575.8 L487.0,576.2 L488.5,576.5 L490.0,576.8 L491.5,577.2 L493.0,577.5 L494.5,577.9 L496.0,578.3 L497.5,578.6 L499.0,579.0 L500.5,579.4 L502.0,579.8 L503.5,580.1 L505.0,580.5 L506.5,580.9 L508.0,581.3 L509.5,581.7 L511.0,582.1 L512.5,582.6 L514.0,583.0 L515.5,583.4 L517.0,583.8 L518.5,584.3 L520.0,584.7 L521.5,585.2 L523.0,585.6 L524.5,586.1 L526.0,586.5 L527.5,587.0 L529.0,587.5 L530.5,587.9 L532.0,588.4 L533.5,588.9 L535.0,589.4 L536.5,589.9 L538.0,590.4 L539.5,590.9 L541.0,591.4 L542.5,591.9 L544.0,592.4 L545.5,593.0 L547.0,593.5 L548.5,594.0 L550.0,594.6 L551.5,595.1 L553.0,595.7 L554.5,596.2 L556.0,596.8 L557.5,597.4 L559.0,597.9 L560.5,598.5 L562.0,599.1 L563.5,599.7 L565.0,600.3 L566.5,600.9 L568.0,601.5 L569.5,602.1 L571.0,602.7 L572.5,603.3 L574.0,604.0 L575.5,604.6 L577.0,605.3 L578.5,605.9 L580.0,606.6 L581.5,607.2 L583.0,607.9 L584.5,608.6 L586.0,609.3 L587.5,610.0 L589.0,610.7 L590.5,611.4 L592.0,612.1 L593.5,612.8 L595.0,613.5 L596.5,614.3 L598.0,615.0 L599.5,615.7 L601.0,616.5 L602.5,617.3 L604.0,618.0 L605.5,618.8 L607.0,619.6 L608.5,620.4 L610.0,621.2 L611.5,622.0 L613.0,622.8 L614.5,623.6 L616.0,624.4 L617.5,625.3 L619.0,626.1 L620.5,627.0 L622.0,627.8 L623.5,628.7 L625.0,629.6 L626.5,630.5 L628.0,631.3 L629.5,632.2 L631.0,633.2 L632.5,634.1 L634.0,635.0 L635.5,635.9 L637.0,636.9 L638.5,637.8 L640.0,638.8 L641.5,639.7 L643.0,640.7 L644.5,641.7 L646.0,642.7 L647.5,643.7 L649.0,644.7 L650.5,645.7 L652.0,646.7 L653.5,647.7 L655.0,648.8 L656.5,649.8 L658.0,650.8 L659.5,651.9 L661.0,652.9 L662.5,654.0 L664.0,655.1 L665.5,656.1 L667.0,657.2 L668.5,658.3 L670.0,659.3 L671.5,660.4 L673.0,661.5 L674.5,662.6 L676.0,663.7 L677.5,664.8 L679.0,665.9 L680.5,667.0 L682.0,668.1 L683.5,669.2 L685.0,670.3 L686.5,671.4 L688.0,672.5 L689.5,673.7 L691.0,674.8 L692.5,675.9 L694.0,677.0 L695.5,678.1 L697.0,679.2 L698.5,680.4 L700.0,681.5 L701.5,682.6 L703.0,683.7 L704.5,684.8 L706.0,686.0 L707.5,687.1 L709.0,688.2 L710.5,689.3 L712.0,690.4 L713.5,691.5 L715.0,692.6 L716.5,693.8 L718.0,694.9 L719.5,696.0 L721.0,697.1 L722.5,698.2 L724.0,699.3 L725.5,700.4 L727.0,701.4 L728.5,702.5 L730.0,703.6 L731.5,704.7 L733.0,705.8 L734.5,706.8 L736.0,707.9 L737.5,709.0 L739.0,710.0 L740.5,711.1 L742.0,712.1 L743.5,713.2 L745.0,714.2 L746.5,715.3 L748.0,716.3 L749.5,717.3 L751.0,718.3 L752.5,719.4 L754.0,720.4 L755.5,721.4 L757.0,722.4 L758.5,723.4 L760.0,724.4 L761.5,725.4 L763.0,726.4 L764.5,727.4 L766.0,728.4 L767.5,729.4 L769.0,730.4 L770.5,731.3 L772.0,732.3 L773.5,733.3 L775.0,734.2 L776.5,735.2 L778.0,736.1 L779.5,737.1 L781.0,738.0 L782.5,739.0 L784.0,739.9 L785.5,740.9 L787.0,741.8 L788.5,742.7 L790.0,743.6 L791.5,744.6 L793.0,745.5 L794.5,746.4 L796.0,747.3 L797.5,748.2 L799.0,749.1 L800.5,750.0 L802.0,750.9 L803.5,751.8 L805.0,752.7 L806.5,753.5 L808.0,754.4 L809.5,755.3 L811.0,756.1 L812.5,757.0 L814.0,757.9 L815.5,758.7 L817.0,759.6 L818.5,760.4 L820.0,761.3 L821.5,762.1 L823.0,762.9 L824.5,763.8 L826.0,764.6 L827.5,765.4 L829.0,766.2 L830.5,767.1 L832.0,767.9 L833.5,768.7 L835.0,769.5 L836.5,770.3 L838.0,771.1 L839.5,771.9 L841.0,772.6 L842.5,773.4 L844.0,774.2 L845.5,775.0 L847.0,775.8 L848.5,776.5 L850.0,777.3 L851.5,778.0 L853.0,778.8 L854.5,779.5 L856.0,780.3 L857.5,781.0 L859.0,781.8 L860.5,782.5 L862.0,783.2 L863.5,784.0 L865.0,784.7 L866.5,785.4 L868.0,786.1 L869.5,786.8 L871.0,787.5 L872.5,788.2 L874.0,788.9 L875.5,789.6 L877.0,790.3 L878.5,791.0 L880.0,791.7 L881.5,792.4 L883.0,793.1 L884.5,793.7 L886.0,794.4 L887.5,795.1 L889.0,795.7 L890.5,796.4 L892.0,797.0 L893.5,797.7 L894.0,797.9 L899.0,802.5 L900.5,802.9 L902.0,803.4 L903.5,803.8 L905.0,804.3 L906.5,804.7 L908.0,805.2 L909.5,805.6 L911.0,806.1 L912.5,806.5 L914.0,807.0 L915.5,807.4 L917.0,807.8 L918.5,808.3 L920.0,808.7 L921.5,809.1 L923.0,809.6 L924.5,810.0 L926.0,810.4 L927.5,810.8 L929.0,811.2 L930.5,811.6 L932.0,812.1 L933.5,812.5 L935.0,812.9 L936.5,813.3 L938.0,813.7 L939.5,814.1 L941.0,814.4 L942.5,814.8 L944.0,815.2 L945.5,815.6 L947.0,816.0 L948.5,816.4 L950.0,816.7 L951.5,817.1 L953.0,817.5 L954.5,817.8 L956.0,818.2 L957.5,818.5 L959.0,818.9 L960.5,819.2 L962.0,819.6 L963.5,819.9 L965.0,820.2 L966.5,820.6 L968.0,820.9 L969.5,821.2 L971.0,821.5 L972.5,821.8 L974.0,822.1 L975.5,822.4 L977.0,822.7 L978.5,823.0 L980.0,823.3 L981.5,823.6 L983.0,823.9 L984.5,824.1 L986.0,824.4 L987.5,824.7 L989.0,824.9 L990.5,825.2 L992.0,825.4 L993.5,825.7 L995.0,825.9 L996.5,826.2 L998.0,826.4 L999.5,826.6 L1001.0,826.8 L1002.5,827.0 L1004.0,827.3 L1005.5,827.5 L1007.0,827.7 L1008.5,827.8 L1010.0,828.0 L1011.5,828.2 L1013.0,828.4 L1014.5,828.5 L1016.0,828.7 L1017.5,828.9 L1019.0,829.0 L1020.5,829.2 L1022.0,829.3 L1023.5,829.4 L1025.0,829.5 L1026.5,829.7 L1028.0,829.8 L1029.5,829.9 L1031.0,830.0 L1032.5,830.1 L1034.0,830.2 L1035.5,830.2 L1037.0,830.3 L1038.5,830.4 L1040.0,830.4 L1041.5,830.5 L1043.0,830.5 L1044.5,830.6 L1046.0,830.6 L1047.5,830.6 L1049.0,830.7 L1050.5,830.7 L1052.0,830.7 L1053.5,830.7 L1055.0,830.7 L1056.5,830.6 L1058.0,830.6 L1059.5,830.6 L1061.0,830.5 L1062.5,830.5 L1064.0,830.4 L1065.5,830.4 L1067.0,830.3 L1068.5,830.2 L1070.0,830.1 L1071.5,830.0 L1073.0,829.9 L1074.5,829.8 L1076.0,829.7 L1077.5,829.6 L1079.0,829.4 L1080.5,829.3 L1082.0,829.1 L1083.5,829.0 L1085.0,828.8 L1086.5,828.6 L1088.0,828.5 L1089.5,828.3 L1091.0,828.1 L1092.5,827.9 L1094.0,827.7 L1095.5,827.5 L1097.0,827.2 L1098.5,827.0 L1100.0,826.8 L1101.5,826.5 L1103.0,826.3 L1104.5,826.0 L1106.0,825.8 L1107.5,825.5 L1109.0,825.2 L1110.5,824.9 L1112.0,824.6 L1113.5,824.3 L1115.0,824.1 L1116.5,823.7 L1118.0,823.4 L1119.5,823.1 L1121.0,822.8 L1122.5,822.5 L1124.0,822.1 L1125.5,821.8 L1127.0,821.5 L1128.5,821.1 L1130.0,820.8 L1131.5,820.4 L1133.0,820.1 L1134.5,819.7 L1136.0,819.3 L1137.5,819.0 L1139.0,818.6 L1140.5,818.2 L1142.0,817.8 L1143.5,817.4 L1145.0,817.0 L1146.5,816.6 L1148.0,816.2 L1149.5,815.8 L1151.0,815.4 L1152.5,815.0 L1154.0,814.6 L1155.5,814.2 L1157.0,813.8 L1158.5,813.4 L1160.0,812.9 L1161.5,812.5 L1163.0,812.1 L1164.5,811.6 L1166.0,811.2 L1167.5,810.8 L1169.0,810.3 L1170.5,809.9 L1172.0,809.5 L1173.5,809.0 L1175.0,808.6 L1176.5,808.1 L1178.0,807.7 L1179.5,807.2 L1181.0,806.8 L1182.5,806.3 L1184.0,805.8 L1185.5,805.4 L1187.0,804.9 L1188.5,804.5 L1190.0,804.0 L1191.5,803.5 L1193.0,803.1 L1194.5,802.6 L1196.0,802.2 L1197.5,801.7 L1199.0,801.2 L1200.5,800.8 L1202.0,800.3 L1203.5,799.8 L1205.0,799.4 L1206.5,798.9 L1208.0,798.5 L1209.5,798.0 L1211.0,797.5 L1212.5,797.1 L1214.0,796.6 L1215.5,796.1 L1217.0,795.7 L1218.5,795.2 L1220.0,794.8 L1221.5,794.3 L1223.0,793.9 L1224.5,793.4 L1226.0,792.9 L1227.5,792.5 L1229.0,792.0 L1230.5,791.6 L1232.0,791.2 L1233.5,790.7 L1235.0,790.3 L1236.5,789.8 L1238.0,789.4 L1239.5,789.0 L1241.0,788.5 L1242.5,788.1 L1244.0,787.7 L1245.5,787.2 L1247.0,786.8 L1248.5,786.4 L1250.0,786.0 L1251.5,785.6 L1253.0,785.2 L1254.5,784.7 L1256.0,784.3 L1257.5,783.9 L1259.0,783.5 L1260.5,783.2 L1262.0,782.8 L1263.5,782.4 L1265.0,782.0 L1266.5,781.6 L1268.0,781.2 L1269.5,780.9 L1271.0,780.5 L1272.5,780.1 L1274.0,779.8 L1275.5,779.4 L1277.0,779.1 L1278.5,778.8 L1280.0,778.4 L1281.5,778.1 L1283.0,777.8 L1284.5,777.4 L1286.0,777.1 L1287.5,776.8 L1289.0,776.5 L1290.5,776.2 L1292.0,775.9 L1293.5,775.6 L1295.0,775.3 L1296.5,775.1 L1298.0,774.8 L1299.5,774.5 L1301.0,774.3 L1302.5,774.0 L1304.0,773.8 L1305.5,773.5 L1307.0,773.3 L1308.5,773.1 L1310.0,772.8 L1311.5,772.6 L1313.0,772.4 L1314.5,772.2 L1316.0,772.0 L1317.5,771.9 L1319.0,771.7 L1320.5,771.5 L1322.0,771.3 L1323.5,771.2 L1325.0,771.0 L1326.5,770.9 L1328.0,770.8 L1329.5,770.7 L1331.0,770.5 L1332.5,770.4 L1334.0,770.3 L1335.5,770.2 L1337.0,770.2 L1338.5,770.1 L1340.0,770.0 L1341.5,770.0 L1343.0,769.9 L1344.5,769.9 L1346.0,769.8 L1347.5,769.8 L1349.0,769.8 L1350.5,769.8 L1352.0,769.8 L1353.5,769.8 L1355.0,769.8 L1356.5,769.8 L1358.0,769.9 L1359.5,769.9 L1361.0,770.0 L1362.5,770.0 L1364.0,770.1 L1365.5,770.2 L1367.0,770.3 L1368.5,770.4 L1370.0,770.5 L1371.5,770.6 L1373.0,770.7 L1374.5,770.9 L1376.0,771.0 L1377.5,771.2 L1379.0,771.3 L1380.5,771.5 L1382.0,771.7 L1383.5,771.9 L1385.0,772.1 L1386.5,772.3 L1388.0,772.5 L1389.5,772.7 L1391.0,773.0 L1392.5,773.2 L1394.0,773.5 L1395.5,773.7 L1397.0,774.0 L1398.5,774.3 L1400.0,774.6 L1401.5,774.9 L1403.0,775.2 L1404.5,775.6 L1406.0,775.9 L1407.5,776.3 L1409.0,776.6 L1410.5,777.0 L1412.0,777.4 L1413.5,777.8 L1415.0,778.2 L1416.5,778.6 L1418.0,779.0 L1419.5,779.4 L1421.0,779.9 L1422.5,780.3 L1424.0,780.8 L1425.5,781.3 L1427.0,781.7 L1428.5,782.2 L1430.0,782.8 L1431.5,783.3 L1433.0,783.8 L1434.5,784.3 L1436.0,784.9 L1437.5,785.5 L1439.0,786.0 L1440.5,786.6 L1442.0,787.2 L1443.5,787.8 L1445.0,788.4 L1446.5,789.1 L1448.0,789.7 L1449.5,790.4 L1451.0,791.0 L1452.5,791.7 L1454.0,792.4 L1455.5,793.1 L1457.0,793.8 L1458.5,794.5 L1460.0,795.3 L1461.5,796.0 L1463.0,796.8 L1464.5,797.5 L1466.0,798.3 L1467.5,799.1 L1469.0,800.0 L1470.5,800.8 L1472.0,801.6 L1473.5,802.5 L1475.0,803.3 L1476.5,804.2 L1478.0,805.1 L1479.5,806.0 L1481.0,807.0 L1482.5,807.9 L1484.0,808.9 L1485.5,809.8 L1487.0,810.8 L1488.5,811.8 L1490.0,812.8 L1491.5,813.9 L1493.0,814.9 L1494.5,816.0 L1496.0,817.0 L1497.5,818.1 L1499.0,819.2 L1500.5,820.3 L1502.0,821.4 L1503.5,822.5 L1505.0,823.6 L1506.5,824.7 L1508.0,825.8 L1509.5,826.9 L1511.0,828.0 L1512.5,829.1 L1514.0,830.2 L1515.5,831.3 L1517.0,832.5 L1518.5,833.6 L1520.0,834.7 L1521.5,835.8 L1523.0,836.9 L1524.5,838.0 L1526.0,839.2 L1527.5,840.3 L1529.0,841.5 L1530.5,842.6 L1532.0,843.8 L1533.5,844.9 L1535.0,846.1 L1536.5,847.3 L1538.0,848.5 L1539.5,849.7 L1541.0,850.9 L1542.5,852.1 L1544.0,853.4 L1545.5,854.6 L1547.0,855.9 L1548.5,857.2 L1550.0,858.5 L1551.5,859.8 L1553.0,861.2 L1554.5,862.5 L1556.0,863.9 L1557.5,865.3 L1559.0,866.7 L1560.5,868.1 L1562.0,869.6 L1563.5,871.1 L1565.0,872.6 L1566.5,874.1 L1568.0,875.6 L1569.5,877.2 L1571.0,878.7 L1572.5,880.3 L1574.0,882.0 L1575.5,883.6 L1577.0,885.3 L1578.5,886.9 L1580.0,888.6 L1581.5,890.3 L1583.0,892.1 L1584.5,893.8 L1586.0,895.6 L1587.5,897.3 L1589.0,899.1 L1590.5,900.9 L1592.0,902.8 L1593.5,904.6 L1595.0,906.4 L1596.5,908.3 L1598.0,910.2 L1599.5,912.1 L1601.0,914.0 L1602.5,915.9 L1604.0,917.8 L1605.5,919.8 L1607.0,921.7 L1608.5,923.7 L1610.0,925.6 L1611.5,927.6 L1613.0,929.6 L1614.5,931.6 L1616.0,933.6 L1617.5,935.6 L1619.0,937.6 L1620.5,939.6 L1622.0,941.7 L1623.5,943.7 L1625.0,945.8 L1626.5,947.8 L1628.0,949.9 L1629.5,952.0 L1631.0,954.1 L1632.5,956.1 L1634.0,958.2 L1635.5,960.3 L1637.0,962.5 L1638.5,964.6 L1640.0,966.7 L1641.5,968.8 L1643.0,971.0 L1644.5,973.1 L1646.0,975.3 L1647.5,977.5 L1649.0,979.6 L1650.5,981.8 L1652.0,984.0 L1653.5,986.2 L1655.0,988.4 L1656.5,990.6 L1658.0,992.8 L1659.5,995.0 L1661.0,997.3 L1662.5,999.5 L1664.0,1001.7 L1665.5,1004.0 L1667.0,1006.2 L1668.5,1008.5 L1670.0,1010.8 L1671.5,1013.0 L1673.0,1015.3 L1674.5,1017.6 L1676.0,1019.9 L1677.5,1022.2 L1679.0,1024.4 L1680.5,1026.7 L1682.0,1029.0 L1683.5,1031.3 L1685.0,1033.5 L1686.5,1035.8 L1688.0,1038.0 L1689.5,1040.2 L1691.0,1042.4 L1692.5,1044.6 L1694.0,1046.8 L1695.5,1048.9 L1697.0,1051.0 L1698.5,1053.1 L1700.0,1055.1 L1701.5,1057.1 L1703.0,1059.1 L1704.5,1061.1 L1706.0,1063.0 L1707.5,1064.9 L1709.0,1066.8 L1710.5,1068.6 L1712.0,1070.4 L1713.5,1072.2 L1715.0,1073.9 L1716.5,1075.6 L1718.0,1077.3 L1719.5,1079.0 L1721.0,1080.6 L1722.5,1082.2 L1724.0,1083.7 L1725.5,1085.3 L1727.0,1086.8 L1728.5,1088.2 L1730.0,1089.7 L1731.5,1091.1 L1733.0,1092.5 L1734.5,1093.8 L1736.0,1095.2 L1737.5,1096.5 L1739.0,1097.8 L1740.5,1099.1 L1742.0,1100.4 L1743.5,1101.6 L1745.0,1102.9 L1746.5,1104.1 L1748.0,1105.3 L1749.5,1106.6 L1751.0,1107.8 L1752.5,1109.0 L1754.0,1110.2 L1755.5,1111.4 L1757.0,1112.6 L1758.5,1113.9 L1760.0,1115.1 L1761.5,1116.3 L1763.0,1117.6 L1764.5,1118.8 L1766.0,1120.1 L1767.5,1121.3 L1769.0,1122.6 L1770.5,1124.0 L1772.0,1125.3 L1773.5,1126.6 L1775.0,1128.0 L1776.5,1129.4 L1776.6,1129.5" stroke="#4a94d6" stroke-width="2.5"/>
<path d="M269.5,629.0 L271.0,628.6 L272.5,628.3 L274.0,628.0 L275.5,627.6 L277.0,627.3 L278.5,626.9 L280.0,626.6 L281.5,626.3 L283.0,625.9 L284.5,625.6 L286.0,625.3 L287.5,624.9 L289.0,624.6 L290.5,624.3 L292.0,623.9 L293.5,623.6 L295.0,623.3 L296.5,623.0 L298.0,622.6 L299.5,622.3 L301.0,622.0 L302.5,621.7 L304.0,621.4 L305.5,621.1 L307.0,620.7 L308.5,620.4 L310.0,620.1 L311.5,619.8 L313.0,619.5 L314.5,619.2 L316.0,618.9 L317.5,618.6 L319.0,618.3 L320.5,618.0 L322.0,617.7 L323.5,617.4 L325.0,617.2 L326.5,616.9 L328.0,616.6 L329.5,616.3 L331.0,616.0 L332.5,615.8 L334.0,615.5 L335.5,615.2 L337.0,615.0 L338.5,614.7 L340.0,614.5 L341.5,614.2 L343.0,614.0 L344.5,613.7 L346.0,613.5 L347.5,613.2 L349.0,613.0 L350.5,612.7 L352.0,612.5 L353.5,612.3 L355.0,612.1 L356.5,611.8 L358.0,611.6 L359.5,611.4 L361.0,611.2 L362.5,611.0 L364.0,610.8 L365.5,610.6 L367.0,610.4 L368.5,610.2 L370.0,610.0 L371.5,609.9 L373.0,609.7 L374.5,609.5 L376.0,609.3 L377.5,609.2 L379.0,609.0 L380.5,608.9 L382.0,608.7 L383.5,608.6 L385.0,608.4 L386.5,608.3 L388.0,608.2 L389.5,608.0 L391.0,607.9 L392.5,607.8 L394.0,607.7 L395.5,607.6 L397.0,607.5 L398.5,607.4 L400.0,607.3 L401.5,607.2 L403.0,607.1 L404.5,607.1 L406.0,607.0 L407.5,606.9 L409.0,606.8 L410.5,606.8 L412.0,606.7 L413.5,606.7 L415.0,606.6 L416.5,606.6 L418.0,606.6 L419.5,606.6 L421.0,606.5 L422.5,606.5 L424.0,606.5 L425.5,606.5 L427.0,606.5 L428.5,606.5 L430.0,606.5 L431.5,606.5 L433.0,606.5 L434.5,606.6 L436.0,606.6 L437.5,606.6 L439.0,606.7 L440.5,606.7 L442.0,606.8 L443.5,606.8 L445.0,606.9 L446.5,607.0 L448.0,607.0 L449.5,607.1 L451.0,607.2 L452.5,607.3 L454.0,607.4 L455.5,607.5 L457.0,607.6 L458.5,607.7 L460.0,607.8 L461.5,607.9 L463.0,608.1 L464.5,608.2 L466.0,608.3 L467.5,608.5 L469.0,608.6 L470.5,608.8 L472.0,609.0 L473.5,609.1 L475.0,609.3 L476.5,609.5 L478.0,609.7 L479.5,609.9 L481.0,610.1 L482.5,610.3 L484.0,610.5 L485.5,610.7 L487.0,610.9 L488.5,611.1 L490.0,611.3 L491.5,611.6 L493.0,611.8 L494.5,612.1 L496.0,612.3 L497.5,612.6 L499.0,612.8 L500.5,613.1 L502.0,613.3 L503.5,613.6 L505.0,613.9 L506.5,614.2 L508.0,614.4 L509.5,614.7 L511.0,615.0 L512.5,615.3 L514.0,615.6 L515.5,615.9 L517.0,616.2 L518.5,616.5 L520.0,616.8 L521.5,617.2 L523.0,617.5 L524.5,617.8 L526.0,618.1 L527.5,618.5 L529.0,618.8 L530.5,619.2 L532.0,619.5 L533.5,619.8 L535.0,620.2 L536.5,620.5 L538.0,620.9 L539.5,621.3 L541.0,621.6 L542.5,622.0 L544.0,622.3 L545.5,622.7 L547.0,623.1 L548.5,623.5 L550.0,623.8 L551.5,624.2 L553.0,624.6 L554.5,625.0 L556.0,625.4 L557.5,625.8 L559.0,626.2 L560.5,626.5 L562.0,626.9 L563.5,627.3 L565.0,627.7 L566.5,628.1 L568.0,628.5 L569.5,628.9 L571.0,629.4 L572.5,629.8 L574.0,630.2 L575.5,630.6 L577.0,631.0 L578.5,631.4 L580.0,631.8 L581.5,632.3 L583.0,632.7 L584.5,633.1 L586.0,633.5 L587.5,633.9 L589.0,634.4 L590.5,634.8 L592.0,635.2 L593.5,635.7 L595.0,636.1 L596.5,636.5 L598.0,637.0 L599.5,637.4 L601.0,637.8 L602.5,638.3 L604.0,638.7 L605.5,639.1 L607.0,639.6 L608.5,640.0 L610.0,640.5 L611.5,640.9 L613.0,641.4 L614.5,641.8 L616.0,642.2 L617.5,642.7 L619.0,643.1 L620.5,643.6 L622.0,644.0 L623.5,644.5 L625.0,644.9 L626.5,645.4 L628.0,645.8 L629.5,646.3 L631.0,646.7 L632.5,647.1 L634.0,647.6 L635.5,648.0 L637.0,648.5 L638.5,648.9 L640.0,649.4 L641.5,649.8 L643.0,650.3 L644.5,650.7 L646.0,651.2 L647.5,651.6 L649.0,652.1 L650.5,652.5 L652.0,653.0 L653.5,653.4 L655.0,653.8 L656.5,654.3 L658.0,654.7 L659.5,655.2 L661.0,655.6 L662.5,656.0 L664.0,656.5 L665.5,656.9 L667.0,657.4 L668.5,657.8 L670.0,658.2 L671.5,658.7 L673.0,659.1 L674.5,659.5 L676.0,660.0 L677.5,660.4 L679.0,660.8 L680.5,661.3 L682.0,661.7 L683.5,662.1 L685.0,662.5 L686.5,663.0 L688.0,663.4 L689.5,663.8 L691.0,664.2 L692.5,664.6 L694.0,665.1 L695.5,665.5 L697.0,665.9 L698.5,666.3 L700.0,666.7 L701.5,667.1 L703.0,667.5 L704.5,667.9 L706.0,668.3 L707.5,668.7 L709.0,669.1 L710.5,669.5 L712.0,669.9 L713.5,670.3 L715.0,670.7 L716.5,671.1 L718.0,671.4 L719.5,671.8 L721.0,672.2 L722.5,672.6 L724.0,672.9 L725.5,673.3 L727.0,673.7 L728.5,674.0 L730.0,674.4 L731.5,674.8 L733.0,675.1 L734.5,675.5 L736.0,675.8 L737.5,676.2 L739.0,676.5 L740.5,676.9 L742.0,677.2 L743.5,677.5 L745.0,677.9 L746.5,678.2 L748.0,678.5 L749.5,678.9 L751.0,679.2 L752.5,679.5 L754.0,679.8 L755.5,680.1 L757.0,680.4 L758.5,680.7 L760.0,681.0 L761.5,681.3 L763.0,681.6 L764.5,681.9 L766.0,682.2 L767.5,682.5 L769.0,682.8 L770.5,683.0 L772.0,683.3 L773.5,683.6 L775.0,683.8 L776.5,684.1 L778.0,684.3 L779.5,684.6 L781.0,684.8 L782.5,685.1 L784.0,685.3 L785.5,685.5 L787.0,685.8 L788.5,686.0 L790.0,686.2 L791.5,686.4 L793.0,686.6 L794.5,686.9 L796.0,687.1 L797.5,687.3 L799.0,687.4 L800.5,687.6 L802.0,687.8 L803.5,688.0 L805.0,688.2 L806.5,688.3 L808.0,688.5 L809.5,688.7 L811.0,688.8 L812.5,689.0 L814.0,689.1 L815.5,689.3 L817.0,689.4 L818.5,689.5 L820.0,689.6 L821.5,689.8 L823.0,689.9 L824.5,690.0 L826.0,690.1 L827.5,690.2 L829.0,690.3 L830.5,690.4 L832.0,690.4 L833.5,690.5 L835.0,690.6 L836.5,690.6 L838.0,690.7 L839.5,690.7 L841.0,690.8 L842.5,690.8 L844.0,690.9 L845.5,690.9 L847.0,690.9 L848.5,690.9 L850.0,690.9 L851.5,690.9 L853.0,690.9 L854.5,690.9 L856.0,690.9 L857.5,690.9 L859.0,690.9 L860.5,690.8 L862.0,690.8 L863.5,690.7 L865.0,690.7 L866.5,690.6 L868.0,690.6 L869.5,690.5 L871.0,690.4 L872.5,690.3 L874.0,690.2 L875.5,690.1 L877.0,690.0 L878.5,689.9 L880.0,689.8 L881.5,689.6 L883.0,689.5 L884.5,689.4 L886.0,689.2 L887.5,689.1 L889.0,688.9 L890.5,688.7 L892.0,688.5 L893.5,688.4 L895.0,688.2 L896.0,688.0 L906.0,691.0 L907.5,690.9 L909.0,690.7 L910.5,690.6 L912.0,690.4 L913.5,690.2 L915.0,690.1 L916.5,689.9 L918.0,689.7 L919.5,689.5 L921.0,689.3 L922.5,689.1 L924.0,688.9 L925.5,688.6 L927.0,688.4 L928.5,688.2 L930.0,687.9 L931.5,687.7 L933.0,687.4 L934.5,687.2 L936.0,686.9 L937.5,686.7 L939.0,686.4 L940.5,686.1 L942.0,685.8 L943.5,685.5 L945.0,685.2 L946.5,684.9 L948.0,684.6 L949.5,684.3 L951.0,684.0 L952.5,683.6 L954.0,683.3 L955.5,682.9 L957.0,682.6 L958.5,682.2 L960.0,681.9 L961.5,681.5 L963.0,681.1 L964.5,680.7 L966.0,680.4 L967.5,680.0 L969.0,679.6 L970.5,679.2 L972.0,678.7 L973.5,678.3 L975.0,677.9 L976.5,677.5 L978.0,677.0 L979.5,676.6 L981.0,676.1 L982.5,675.7 L984.0,675.2 L985.5,674.7 L987.0,674.3 L988.5,673.8 L990.0,673.3 L991.5,672.8 L993.0,672.3 L994.5,671.8 L996.0,671.3 L997.5,670.8 L999.0,670.2 L1000.5,669.7 L1002.0,669.2 L1003.5,668.6 L1005.0,668.1 L1006.5,667.5 L1008.0,666.9 L1009.5,666.4 L1011.0,665.8 L1012.5,665.2 L1014.0,664.6 L1015.5,664.0 L1017.0,663.4 L1018.5,662.8 L1020.0,662.2 L1021.5,661.6 L1023.0,661.0 L1024.5,660.3 L1026.0,659.7 L1027.5,659.0 L1029.0,658.4 L1030.5,657.7 L1032.0,657.0 L1033.5,656.4 L1035.0,655.7 L1036.5,655.0 L1038.0,654.3 L1039.5,653.6 L1041.0,652.9 L1042.5,652.2 L1044.0,651.5 L1045.5,650.7 L1047.0,650.0 L1048.5,649.3 L1050.0,648.5 L1051.5,647.8 L1053.0,647.0 L1054.5,646.3 L1056.0,645.5 L1057.5,644.7 L1059.0,643.9 L1060.5,643.1 L1062.0,642.3 L1063.5,641.5 L1065.0,640.7 L1066.5,639.9 L1068.0,639.1 L1069.5,638.3 L1071.0,637.4 L1072.5,636.6 L1074.0,635.7 L1075.5,634.9 L1077.0,634.0 L1078.5,633.1 L1080.0,632.3 L1081.5,631.4 L1083.0,630.5 L1084.5,629.6 L1086.0,628.7 L1087.5,627.8 L1089.0,626.9 L1090.5,625.9 L1092.0,625.0 L1093.5,624.1 L1095.0,623.1 L1096.5,622.2 L1098.0,621.2 L1099.5,620.3 L1101.0,619.3 L1102.5,618.3 L1104.0,617.3 L1105.5,616.3 L1107.0,615.3 L1108.5,614.3 L1110.0,613.3 L1111.5,612.3 L1113.0,611.3 L1114.5,610.3 L1116.0,609.2 L1117.5,608.2 L1119.0,607.1 L1120.5,606.1 L1122.0,605.0 L1123.5,603.9 L1125.0,602.9 L1126.5,601.8 L1128.0,600.7 L1129.5,599.6 L1131.0,598.5 L1132.5,597.4 L1134.0,596.3 L1135.5,595.2 L1137.0,594.1 L1138.5,592.9 L1140.0,591.8 L1141.5,590.7 L1143.0,589.5 L1144.5,588.4 L1146.0,587.2 L1147.5,586.1 L1149.0,584.9 L1150.5,583.8 L1152.0,582.6 L1153.5,581.4 L1155.0,580.3 L1156.5,579.1 L1158.0,577.9 L1159.5,576.7 L1161.0,575.5 L1162.5,574.3 L1164.0,573.1 L1165.5,571.9 L1167.0,570.7 L1168.5,569.5 L1170.0,568.3 L1171.5,567.1 L1173.0,565.9 L1174.5,564.7 L1176.0,563.4 L1177.5,562.2 L1179.0,561.0 L1180.5,559.8 L1182.0,558.5 L1183.5,557.3 L1185.0,556.1 L1186.5,554.8 L1188.0,553.6 L1189.5,552.4 L1191.0,551.1 L1192.5,549.9 L1194.0,548.6 L1195.5,547.4 L1197.0,546.1 L1198.5,544.9 L1200.0,543.6 L1201.5,542.4 L1203.0,541.1 L1204.5,539.9 L1206.0,538.6 L1207.5,537.4 L1209.0,536.1 L1210.5,534.9 L1212.0,533.6 L1213.5,532.4 L1215.0,531.1 L1216.5,529.8 L1218.0,528.6 L1219.5,527.3 L1221.0,526.1 L1222.5,524.8 L1224.0,523.6 L1225.5,522.3 L1227.0,521.1 L1228.5,519.8 L1230.0,518.6 L1231.5,517.3 L1233.0,516.1 L1234.5,514.8 L1236.0,513.6 L1237.5,512.4 L1239.0,511.1 L1240.5,509.9 L1242.0,508.6 L1243.5,507.4 L1245.0,506.2 L1246.5,504.9 L1248.0,503.7 L1249.5,502.5 L1251.0,501.3 L1252.5,500.0 L1254.0,498.8 L1255.5,497.6 L1257.0,496.4 L1258.5,495.2 L1260.0,493.9 L1261.5,492.7 L1263.0,491.5 L1264.5,490.3 L1266.0,489.1 L1267.5,487.9 L1269.0,486.7 L1270.5,485.5 L1272.0,484.3 L1273.5,483.1 L1275.0,481.9 L1276.5,480.8 L1278.0,479.6 L1279.5,478.4 L1281.0,477.2 L1282.5,476.0 L1284.0,474.9 L1285.5,473.7 L1287.0,472.5 L1288.5,471.4 L1290.0,470.2 L1291.5,469.1 L1293.0,467.9 L1294.5,466.8 L1296.0,465.6 L1297.5,464.5 L1299.0,463.4 L1300.5,462.2 L1302.0,461.1 L1303.5,460.0 L1305.0,458.9 L1306.5,457.7 L1308.0,456.6 L1309.5,455.5 L1311.0,454.4 L1312.5,453.3 L1314.0,452.2 L1315.5,451.1 L1317.0,450.1 L1318.5,449.0 L1320.0,447.9 L1321.5,446.9 L1323.0,445.8 L1324.5,444.8 L1326.0,443.7 L1327.5,442.7 L1329.0,441.7 L1330.5,440.7 L1332.0,439.7 L1333.5,438.7 L1335.0,437.7 L1336.5,436.8 L1338.0,435.8 L1339.5,434.9 L1341.0,433.9 L1342.5,433.0 L1344.0,432.1 L1345.5,431.2 L1347.0,430.4 L1348.5,429.5 L1350.0,428.7 L1351.5,427.9 L1353.0,427.0 L1354.5,426.2 L1356.0,425.5 L1357.5,424.7 L1359.0,424.0 L1360.5,423.2 L1362.0,422.5 L1363.5,421.8 L1365.0,421.2 L1366.5,420.5 L1368.0,419.9 L1369.5,419.3 L1371.0,418.7 L1372.5,418.1 L1374.0,417.6 L1375.5,417.1 L1377.0,416.6 L1378.5,416.1 L1380.0,415.7 L1381.5,415.3 L1383.0,414.9 L1384.5,414.5 L1386.0,414.2 L1387.5,413.9 L1389.0,413.6 L1390.5,413.4 L1392.0,413.1 L1393.5,412.9 L1395.0,412.8 L1396.5,412.7 L1398.0,412.6 L1399.5,412.5 L1401.0,412.5 L1402.5,412.5 L1404.0,412.5 L1405.5,412.6 L1407.0,412.7 L1408.5,412.9 L1410.0,413.1 L1411.5,413.3 L1413.0,413.5 L1414.5,413.8 L1416.0,414.2 L1417.5,414.6 L1419.0,415.0 L1420.5,415.4 L1422.0,415.9 L1423.5,416.5 L1425.0,417.1 L1426.5,417.7 L1428.0,418.4 L1429.5,419.1 L1431.0,419.8 L1432.5,420.6 L1434.0,421.5 L1435.5,422.4 L1437.0,423.3 L1438.5,424.3 L1440.0,425.4 L1441.5,426.4 L1443.0,427.6 L1444.5,428.8 L1446.0,430.0 L1447.5,431.3 L1449.0,432.6 L1450.5,434.0 L1452.0,435.5 L1453.5,437.0 L1455.0,438.5 L1456.5,440.1 L1458.0,441.8 L1459.5,443.5 L1461.0,445.3 L1462.5,447.1 L1464.0,449.0 L1465.5,450.9 L1467.0,452.9 L1468.5,455.0 L1470.0,457.1 L1471.5,459.3 L1473.0,461.4 L1474.5,463.7 L1476.0,465.9 L1477.5,468.1 L1479.0,470.4 L1480.5,472.7 L1482.0,474.9 L1483.5,477.2 L1485.0,479.4 L1486.5,481.7 L1488.0,483.9 L1489.5,486.1 L1491.0,488.4 L1492.5,490.7 L1494.0,493.0 L1495.5,495.3 L1497.0,497.7 L1498.5,500.1 L1500.0,502.6 L1501.5,505.2 L1503.0,507.8 L1504.5,510.6 L1506.0,513.3 L1507.5,516.2 L1509.0,519.1 L1510.5,522.0 L1512.0,525.1 L1513.5,528.1 L1515.0,531.2 L1516.5,534.3 L1518.0,537.4 L1519.5,540.6 L1521.0,543.8 L1522.5,547.0 L1524.0,550.2 L1525.5,553.4 L1527.0,556.6 L1528.5,559.8 L1530.0,563.0 L1531.5,566.2 L1533.0,569.4 L1534.5,572.6 L1536.0,575.7 L1537.5,578.8 L1539.0,581.9 L1540.5,584.9 L1542.0,588.0 L1543.5,591.0 L1545.0,594.0 L1546.5,597.0 L1548.0,600.0 L1549.5,603.0 L1551.0,606.0 L1552.5,609.0 L1554.0,612.1 L1555.5,615.2 L1557.0,618.3 L1558.5,621.4 L1560.0,624.7 L1561.5,627.9 L1563.0,631.2 L1564.5,634.6 L1566.0,638.1 L1567.5,641.6 L1569.0,645.1 L1570.5,648.7 L1572.0,652.3 L1573.5,656.0 L1575.0,659.7 L1576.5,663.4 L1578.0,667.2 L1579.5,671.0 L1581.0,674.8 L1582.5,678.6 L1584.0,682.5 L1585.5,686.3 L1587.0,690.2 L1588.5,694.1 L1590.0,698.0 L1591.5,701.8 L1593.0,705.7 L1594.5,709.6 L1596.0,713.5 L1597.5,717.3 L1599.0,721.2 L1600.5,725.0 L1602.0,728.8 L1603.5,732.6 L1605.0,736.3 L1606.5,740.0 L1608.0,743.7 L1609.5,747.3 L1611.0,751.0 L1612.5,754.5 L1614.0,758.1 L1615.5,761.6 L1617.0,765.0 L1618.5,768.5 L1620.0,771.9 L1621.5,775.3 L1623.0,778.7 L1624.5,782.1 L1626.0,785.5 L1627.5,788.8 L1629.0,792.2 L1630.5,795.6 L1632.0,799.0 L1633.5,802.4 L1635.0,805.8 L1636.5,809.2 L1638.0,812.6 L1639.5,816.0 L1641.0,819.4 L1642.5,822.8 L1644.0,826.1 L1645.5,829.5 L1647.0,832.8 L1648.5,836.0 L1650.0,839.2 L1651.5,842.4 L1653.0,845.5 L1654.5,848.5 L1656.0,851.5 L1657.5,854.4 L1659.0,857.2 L1660.5,859.9 L1662.0,862.6 L1663.5,865.2 L1665.0,867.8 L1666.5,870.3 L1668.0,872.9 L1669.5,875.3 L1671.0,877.8 L1672.5,880.3 L1674.0,882.8 L1675.5,885.3 L1677.0,887.8 L1678.5,890.4 L1680.0,893.0 L1681.5,895.6 L1683.0,898.3 L1684.5,901.1 L1686.0,903.9 L1687.5,906.7 L1689.0,909.6 L1690.5,912.5 L1692.0,915.4 L1693.5,918.4 L1695.0,921.4 L1696.5,924.4 L1698.0,927.4 L1699.5,930.4 L1701.0,933.5 L1702.5,936.5 L1704.0,939.6 L1705.5,942.6 L1707.0,945.6 L1708.5,948.6 L1710.0,951.7 L1711.5,954.6 L1713.0,957.6 L1714.5,960.5 L1716.0,963.4 L1717.5,966.3 L1719.0,969.2 L1720.5,971.9 L1722.0,974.7 L1723.5,977.4 L1725.0,980.0 L1726.5,982.6 L1728.0,985.1 L1729.5,987.6 L1731.0,990.0 L1732.5,992.3 L1734.0,994.6 L1735.5,996.7 L1737.0,998.8 L1738.5,1000.8 L1740.0,1002.7 L1741.5,1004.6 L1743.0,1006.4 L1744.5,1008.1 L1746.0,1009.8 L1747.5,1011.5 L1749.0,1013.1 L1750.5,1014.7 L1752.0,1016.3 L1753.5,1017.9 L1755.0,1019.5 L1756.5,1021.1 L1758.0,1022.7 L1759.5,1024.3 L1761.0,1026.0 L1762.5,1027.7 L1764.0,1029.5 L1765.5,1031.3 L1767.0,1033.2 L1768.5,1035.2 L1770.0,1037.2 L1771.5,1039.4 L1773.0,1041.6 L1774.5,1044.0 L1775.7,1045.9" stroke="#000" stroke-width="4.2" stroke-linecap="round" stroke-dasharray="12 18.5" stroke-dashoffset="18.2"/>
<path d="M269.5,589.8 L271.0,589.3 L272.5,588.8 L274.0,588.3 L275.5,587.8 L277.0,587.3 L278.5,586.9 L280.0,586.4 L281.5,585.9 L283.0,585.5 L284.5,585.1 L286.0,584.6 L287.5,584.2 L289.0,583.8 L290.5,583.4 L292.0,583.0 L293.5,582.7 L295.0,582.3 L296.5,581.9 L298.0,581.6 L299.5,581.2 L301.0,580.9 L302.5,580.5 L304.0,580.2 L305.5,579.9 L307.0,579.5 L308.5,579.2 L310.0,578.9 L311.5,578.6 L313.0,578.3 L314.5,578.0 L316.0,577.7 L317.5,577.4 L319.0,577.1 L320.5,576.9 L322.0,576.6 L323.5,576.3 L325.0,576.0 L326.5,575.8 L328.0,575.5 L329.5,575.2 L331.0,575.0 L332.5,574.7 L334.0,574.5 L335.5,574.2 L337.0,574.0 L338.5,573.7 L340.0,573.4 L341.5,573.2 L343.0,572.9 L344.5,572.7 L346.0,572.4 L347.5,572.2 L349.0,572.0 L350.5,571.7 L352.0,571.5 L353.5,571.2 L355.0,571.0 L356.5,570.7 L358.0,570.5 L359.5,570.3 L361.0,570.0 L362.5,569.8 L364.0,569.5 L365.5,569.3 L367.0,569.1 L368.5,568.8 L370.0,568.6 L371.5,568.4 L373.0,568.1 L374.5,567.9 L376.0,567.7 L377.5,567.4 L379.0,567.2 L380.5,567.0 L382.0,566.7 L383.5,566.5 L385.0,566.2 L386.5,566.0 L388.0,565.8 L389.5,565.5 L391.0,565.3 L392.5,565.1 L394.0,564.8 L395.5,564.6 L397.0,564.4 L398.5,564.2 L400.0,563.9 L401.5,563.7 L403.0,563.5 L404.5,563.3 L406.0,563.1 L407.5,562.9 L409.0,562.7 L410.5,562.5 L412.0,562.3 L413.5,562.2 L415.0,562.0 L416.5,561.8 L418.0,561.7 L419.5,561.6 L421.0,561.4 L422.5,561.3 L424.0,561.2 L425.5,561.1 L427.0,561.0 L428.5,560.9 L430.0,560.8 L431.5,560.7 L433.0,560.7 L434.5,560.7 L436.0,560.6 L437.5,560.6 L439.0,560.6 L440.5,560.6 L442.0,560.6 L443.5,560.7 L445.0,560.7 L446.5,560.8 L448.0,560.9 L449.5,561.0 L451.0,561.1 L452.5,561.2 L454.0,561.4 L455.5,561.5 L457.0,561.7 L458.5,561.8 L460.0,562.0 L461.5,562.2 L463.0,562.4 L464.5,562.7 L466.0,562.9 L467.5,563.1 L469.0,563.4 L470.5,563.6 L472.0,563.9 L473.5,564.2 L475.0,564.4 L476.5,564.7 L478.0,565.0 L479.5,565.3 L481.0,565.6 L482.5,566.0 L484.0,566.3 L485.5,566.6 L487.0,566.9 L488.5,567.3 L490.0,567.6 L491.5,568.0 L493.0,568.3 L494.5,568.7 L496.0,569.0 L497.5,569.4 L499.0,569.7 L500.5,570.1 L502.0,570.4 L503.5,570.8 L505.0,571.2 L506.5,571.5 L508.0,571.9 L509.5,572.3 L511.0,572.6 L512.5,573.0 L514.0,573.4 L515.5,573.7 L517.0,574.1 L518.5,574.5 L520.0,574.9 L521.5,575.3 L523.0,575.7 L524.5,576.1 L526.0,576.5 L527.5,577.0 L529.0,577.4 L530.5,577.9 L532.0,578.3 L533.5,578.8 L535.0,579.3 L536.5,579.8 L538.0,580.3 L539.5,580.8 L541.0,581.3 L542.5,581.9 L544.0,582.4 L545.5,583.0 L547.0,583.6 L548.5,584.2 L550.0,584.9 L551.5,585.5 L553.0,586.2 L554.5,586.9 L556.0,587.6 L557.5,588.3 L559.0,589.0 L560.5,589.8 L562.0,590.6 L563.5,591.4 L565.0,592.2 L566.5,593.0 L568.0,593.9 L569.5,594.7 L571.0,595.6 L572.5,596.5 L574.0,597.4 L575.5,598.3 L577.0,599.2 L578.5,600.1 L580.0,601.0 L581.5,601.9 L583.0,602.9 L584.5,603.8 L586.0,604.7 L587.5,605.6 L589.0,606.5 L590.5,607.4 L592.0,608.4 L593.5,609.3 L595.0,610.2 L596.5,611.1 L598.0,612.0 L599.5,612.9 L601.0,613.8 L602.5,614.8 L604.0,615.7 L605.5,616.6 L607.0,617.5 L608.5,618.5 L610.0,619.4 L611.5,620.4 L613.0,621.3 L614.5,622.3 L616.0,623.3 L617.5,624.3 L619.0,625.3 L620.5,626.3 L622.0,627.3 L623.5,628.3 L625.0,629.3 L626.5,630.4 L628.0,631.5 L629.5,632.5 L631.0,633.6 L632.5,634.8 L634.0,635.9 L635.5,637.0 L637.0,638.2 L638.5,639.4 L640.0,640.6 L641.5,641.8 L643.0,643.0 L644.5,644.3 L646.0,645.6 L647.5,646.9 L649.0,648.2 L650.5,649.5 L652.0,650.9 L653.5,652.2 L655.0,653.6 L656.5,655.0 L658.0,656.4 L659.5,657.9 L661.0,659.3 L662.5,660.8 L664.0,662.2 L665.5,663.7 L667.0,665.2 L668.5,666.7 L670.0,668.2 L671.5,669.7 L673.0,671.3 L674.5,672.8 L676.0,674.3 L677.5,675.9 L679.0,677.4 L680.5,679.0 L682.0,680.5 L683.5,682.1 L685.0,683.6 L686.5,685.2 L688.0,686.8 L689.5,688.3 L691.0,689.9 L692.5,691.5 L694.0,693.0 L695.5,694.6 L697.0,696.2 L698.5,697.7 L700.0,699.3 L701.5,700.9 L703.0,702.4 L704.5,704.0 L706.0,705.6 L707.5,707.1 L709.0,708.7 L710.5,710.3 L712.0,711.9 L713.5,713.4 L715.0,715.0 L716.5,716.6 L718.0,718.1 L719.5,719.7 L721.0,721.3 L722.5,722.9 L724.0,724.5 L725.5,726.0 L727.0,727.6 L728.5,729.2 L730.0,730.8 L731.5,732.3 L733.0,733.9 L734.5,735.5 L736.0,737.1 L737.5,738.7 L739.0,740.2 L740.5,741.8 L742.0,743.4 L743.5,745.0 L745.0,746.6 L746.5,748.2 L748.0,749.7 L749.5,751.3 L751.0,752.9 L752.5,754.5 L754.0,756.1 L755.5,757.6 L757.0,759.2 L758.5,760.8 L760.0,762.4 L761.5,764.0 L763.0,765.5 L764.5,767.1 L766.0,768.7 L767.5,770.2 L769.0,771.8 L770.5,773.4 L772.0,774.9 L773.5,776.5 L775.0,778.1 L776.5,779.6 L778.0,781.2 L779.5,782.7 L781.0,784.3 L782.5,785.8 L784.0,787.3 L785.5,788.9 L787.0,790.4 L788.5,791.9 L790.0,793.5 L791.5,795.0 L793.0,796.5 L794.5,798.0 L796.0,799.5 L797.5,801.0 L799.0,802.5 L800.5,804.0 L802.0,805.4 L803.5,806.9 L805.0,808.4 L806.5,809.8 L808.0,811.3 L809.5,812.7 L811.0,814.2 L812.5,815.6 L814.0,817.0 L815.5,818.5 L817.0,819.9 L818.5,821.3 L820.0,822.7 L821.5,824.1 L823.0,825.4 L824.5,826.8 L826.0,828.2 L827.5,829.5 L829.0,830.9 L830.5,832.2 L832.0,833.5 L833.5,834.9 L835.0,836.2 L836.5,837.5 L838.0,838.8 L839.5,840.0 L841.0,841.3 L842.5,842.6 L844.0,843.8 L845.5,845.0 L847.0,846.3 L848.5,847.5 L850.0,848.7 L851.5,849.9 L853.0,851.1 L854.5,852.2 L856.0,853.4 L857.5,854.5 L859.0,855.7 L860.5,856.8 L862.0,857.9 L863.5,859.0 L865.0,860.1 L866.5,861.1 L868.0,862.2 L869.5,863.2 L871.0,864.3 L872.5,865.3 L874.0,866.3 L875.5,867.3 L877.0,868.3 L878.5,869.2 L880.0,870.2 L881.5,871.1 L883.0,872.1 L884.5,873.0 L886.0,873.9 L887.5,874.8 L889.0,875.7 L890.5,876.6 L892.0,877.4 L893.5,878.3 L895.0,879.1 L896.5,880.0 L898.0,880.8 L899.5,881.6 L901.0,882.4 L902.5,883.2 L904.0,884.0 L905.5,884.7 L907.0,885.5 L908.5,886.2 L910.0,887.0 L911.5,887.7 L913.0,888.4 L914.5,889.1 L916.0,889.8 L917.5,890.5 L919.0,891.1 L920.5,891.8 L922.0,892.5 L923.5,893.1 L925.0,893.7 L926.5,894.4 L928.0,895.0 L929.5,895.6 L931.0,896.2 L932.5,896.8 L934.0,897.3 L935.5,897.9 L937.0,898.5 L938.5,899.0 L940.0,899.5 L941.5,900.1 L943.0,900.6 L944.5,901.1 L946.0,901.6 L947.5,902.1 L949.0,902.6 L950.5,903.1 L952.0,903.5 L953.5,904.0 L955.0,904.5 L956.5,904.9 L958.0,905.3 L959.5,905.8 L961.0,906.2 L962.5,906.6 L964.0,907.0 L965.5,907.4 L967.0,907.8 L968.5,908.2 L970.0,908.5 L971.5,908.9 L973.0,909.3 L974.5,909.6 L976.0,910.0 L977.5,910.3 L979.0,910.6 L980.5,911.0 L982.0,911.3 L983.5,911.6 L985.0,911.9 L986.5,912.2 L988.0,912.5 L989.5,912.7 L991.0,913.0 L992.5,913.3 L994.0,913.5 L995.5,913.8 L997.0,914.0 L998.5,914.2 L1000.0,914.5 L1001.5,914.7 L1003.0,914.9 L1004.5,915.1 L1006.0,915.3 L1007.5,915.5 L1009.0,915.7 L1010.5,915.9 L1012.0,916.1 L1013.5,916.2 L1015.0,916.4 L1016.5,916.5 L1018.0,916.7 L1019.5,916.8 L1021.0,917.0 L1022.5,917.1 L1024.0,917.2 L1025.5,917.3 L1027.0,917.4 L1028.5,917.6 L1030.0,917.6 L1031.5,917.7 L1033.0,917.8 L1034.5,917.9 L1036.0,918.0 L1037.5,918.0 L1039.0,918.1 L1040.5,918.2 L1042.0,918.2 L1043.5,918.2 L1045.0,918.3 L1046.5,918.3 L1048.0,918.3 L1049.5,918.3 L1051.0,918.4 L1052.5,918.4 L1054.0,918.4 L1055.5,918.4 L1057.0,918.3 L1058.5,918.3 L1060.0,918.3 L1061.5,918.3 L1063.0,918.2 L1064.5,918.2 L1066.0,918.2 L1067.5,918.1 L1069.0,918.0 L1070.5,918.0 L1072.0,917.9 L1073.5,917.8 L1075.0,917.8 L1076.5,917.7 L1078.0,917.6 L1079.5,917.5 L1081.0,917.4 L1082.5,917.3 L1084.0,917.2 L1085.5,917.1 L1087.0,917.0 L1088.5,916.8 L1090.0,916.7 L1091.5,916.6 L1093.0,916.4 L1094.5,916.3 L1096.0,916.1 L1097.5,916.0 L1099.0,915.8 L1100.5,915.6 L1102.0,915.5 L1103.5,915.3 L1105.0,915.1 L1106.5,914.9 L1108.0,914.7 L1109.5,914.6 L1111.0,914.4 L1112.5,914.2 L1114.0,913.9 L1115.5,913.7 L1117.0,913.5 L1118.5,913.3 L1120.0,913.1 L1121.5,912.8 L1123.0,912.6 L1124.5,912.4 L1126.0,912.1 L1127.5,911.9 L1129.0,911.6 L1130.5,911.4 L1132.0,911.1 L1133.5,910.9 L1135.0,910.6 L1136.5,910.3 L1138.0,910.0 L1139.5,909.8 L1141.0,909.5 L1142.5,909.2 L1144.0,908.9 L1145.5,908.6 L1147.0,908.3 L1148.5,908.0 L1150.0,907.7 L1151.5,907.4 L1153.0,907.1 L1154.5,906.7 L1156.0,906.4 L1157.5,906.1 L1159.0,905.8 L1160.5,905.4 L1162.0,905.1 L1163.5,904.8 L1165.0,904.4 L1166.5,904.1 L1168.0,903.7 L1169.5,903.4 L1171.0,903.0 L1172.5,902.6 L1174.0,902.3 L1175.5,901.9 L1177.0,901.5 L1178.5,901.2 L1180.0,900.8 L1181.5,900.4 L1183.0,900.0 L1184.5,899.6 L1186.0,899.3 L1187.5,898.9 L1189.0,898.5 L1190.5,898.1 L1192.0,897.7 L1193.5,897.3 L1195.0,896.9 L1196.5,896.5 L1198.0,896.1 L1199.5,895.6 L1201.0,895.2 L1202.5,894.8 L1204.0,894.4 L1205.5,894.0 L1207.0,893.6 L1208.5,893.1 L1210.0,892.7 L1211.5,892.3 L1213.0,891.9 L1214.5,891.5 L1216.0,891.0 L1217.5,890.6 L1219.0,890.2 L1220.5,889.7 L1222.0,889.3 L1223.5,888.9 L1225.0,888.5 L1226.5,888.0 L1228.0,887.6 L1229.5,887.2 L1231.0,886.7 L1232.5,886.3 L1234.0,885.9 L1235.5,885.5 L1237.0,885.0 L1238.5,884.6 L1240.0,884.2 L1241.5,883.7 L1243.0,883.3 L1244.5,882.9 L1246.0,882.5 L1247.5,882.1 L1249.0,881.6 L1250.5,881.2 L1252.0,880.8 L1253.5,880.4 L1255.0,880.0 L1256.5,879.6 L1258.0,879.1 L1259.5,878.7 L1261.0,878.3 L1262.5,877.9 L1264.0,877.5 L1265.5,877.1 L1267.0,876.7 L1268.5,876.3 L1270.0,875.9 L1271.5,875.5 L1273.0,875.2 L1274.5,874.8 L1276.0,874.4 L1277.5,874.0 L1279.0,873.6 L1280.5,873.3 L1282.0,872.9 L1283.5,872.5 L1285.0,872.2 L1286.5,871.8 L1288.0,871.5 L1289.5,871.1 L1291.0,870.8 L1292.5,870.4 L1294.0,870.1 L1295.5,869.8 L1297.0,869.4 L1298.5,869.1 L1300.0,868.8 L1301.5,868.5 L1303.0,868.2 L1304.5,867.9 L1306.0,867.6 L1307.5,867.3 L1309.0,867.0 L1310.5,866.7 L1312.0,866.4 L1313.5,866.1 L1315.0,865.9 L1316.5,865.6 L1318.0,865.3 L1319.5,865.0 L1321.0,864.8 L1322.5,864.5 L1324.0,864.2 L1325.5,864.0 L1327.0,863.7 L1328.5,863.5 L1330.0,863.2 L1331.5,862.9 L1333.0,862.7 L1334.5,862.4 L1336.0,862.2 L1337.5,861.9 L1339.0,861.7 L1340.5,861.4 L1342.0,861.2 L1343.5,860.9 L1345.0,860.7 L1346.5,860.4 L1348.0,860.1 L1349.5,859.9 L1351.0,859.6 L1352.5,859.4 L1354.0,859.1 L1355.5,858.8 L1357.0,858.6 L1358.5,858.3 L1360.0,858.0 L1361.5,857.8 L1363.0,857.5 L1364.5,857.2 L1366.0,856.9 L1367.5,856.6 L1369.0,856.3 L1370.5,856.0 L1372.0,855.7 L1373.5,855.4 L1375.0,855.1 L1376.5,854.8 L1378.0,854.5 L1379.5,854.2 L1381.0,853.9 L1382.5,853.6 L1384.0,853.3 L1385.5,852.9 L1387.0,852.6 L1388.5,852.3 L1390.0,851.9 L1391.5,851.6 L1393.0,851.3 L1394.5,850.9 L1396.0,850.6 L1397.5,850.2 L1399.0,849.9 L1400.5,849.5 L1402.0,849.1 L1403.5,848.8 L1405.0,848.4 L1406.5,848.0 L1408.0,847.7 L1409.5,847.3 L1411.0,846.9 L1412.5,846.6 L1414.0,846.2 L1415.5,845.8 L1417.0,845.4 L1418.5,845.0 L1420.0,844.7 L1421.5,844.3 L1423.0,843.9 L1424.5,843.5 L1426.0,843.1 L1427.5,842.8 L1429.0,842.4 L1430.5,842.0 L1432.0,841.6 L1433.5,841.2 L1435.0,840.9 L1436.5,840.5 L1438.0,840.1 L1439.5,839.7 L1441.0,839.3 L1442.5,839.0 L1444.0,838.6 L1445.5,838.2 L1447.0,837.9 L1448.5,837.5 L1450.0,837.1 L1451.5,836.8 L1453.0,836.4 L1454.5,836.0 L1456.0,835.7 L1457.5,835.3 L1459.0,835.0 L1460.5,834.6 L1462.0,834.3 L1463.5,833.9 L1465.0,833.6 L1466.5,833.3 L1468.0,832.9 L1469.5,832.6 L1471.0,832.3 L1472.5,832.0 L1474.0,831.7 L1475.5,831.3 L1477.0,831.0 L1478.5,830.7 L1480.0,830.4 L1481.5,830.2 L1483.0,829.9 L1484.5,829.6 L1486.0,829.3 L1487.5,829.1 L1489.0,828.8 L1490.5,828.5 L1492.0,828.3 L1493.5,828.0 L1495.0,827.8 L1496.5,827.6 L1498.0,827.4 L1499.5,827.1 L1501.0,826.9 L1502.5,826.7 L1504.0,826.5 L1505.5,826.4 L1507.0,826.2 L1508.5,826.0 L1510.0,825.8 L1511.5,825.7 L1513.0,825.5 L1514.5,825.4 L1516.0,825.3 L1517.5,825.1 L1519.0,825.0 L1520.5,824.9 L1522.0,824.8 L1523.5,824.7 L1525.0,824.7 L1526.5,824.6 L1528.0,824.5 L1529.5,824.5 L1531.0,824.4 L1532.5,824.4 L1534.0,824.4 L1535.5,824.4 L1537.0,824.4 L1538.5,824.4 L1540.0,824.4 L1541.5,824.5 L1543.0,824.5 L1544.5,824.6 L1546.0,824.6 L1547.5,824.7 L1549.0,824.8 L1550.5,824.9 L1552.0,825.0 L1553.5,825.2 L1555.0,825.3 L1556.5,825.5 L1558.0,825.6 L1559.5,825.8 L1561.0,826.0 L1562.5,826.2 L1564.0,826.4 L1565.5,826.6 L1567.0,826.9 L1568.5,827.2 L1570.0,827.4 L1571.5,827.7 L1573.0,828.0 L1574.5,828.3 L1576.0,828.6 L1577.5,829.0 L1579.0,829.3 L1580.5,829.7 L1582.0,830.1 L1583.5,830.5 L1585.0,830.9 L1586.5,831.4 L1588.0,831.8 L1589.5,832.3 L1591.0,832.7 L1592.5,833.2 L1594.0,833.7 L1595.5,834.3 L1597.0,834.8 L1598.5,835.4 L1600.0,836.0 L1601.5,836.5 L1603.0,837.2 L1604.5,837.8 L1606.0,838.4 L1607.5,839.1 L1609.0,839.7 L1610.5,840.4 L1612.0,841.1 L1613.5,841.8 L1615.0,842.5 L1616.5,843.2 L1618.0,844.0 L1619.5,844.7 L1621.0,845.4 L1622.5,846.2 L1624.0,846.9 L1625.5,847.7 L1627.0,848.5 L1628.5,849.2 L1630.0,850.0 L1631.5,850.8 L1633.0,851.6 L1634.5,852.3 L1636.0,853.1 L1637.5,854.0 L1639.0,854.8 L1640.5,855.6 L1642.0,856.5 L1643.5,857.4 L1645.0,858.3 L1646.5,859.2 L1648.0,860.2 L1649.5,861.1 L1651.0,862.2 L1652.5,863.2 L1654.0,864.3 L1655.5,865.4 L1657.0,866.6 L1658.5,867.8 L1660.0,869.0 L1661.5,870.3 L1663.0,871.6 L1664.5,873.0 L1666.0,874.3 L1667.5,875.7 L1669.0,877.0 L1670.5,878.4 L1672.0,879.8 L1673.5,881.1 L1675.0,882.5 L1676.5,883.8 L1678.0,885.1 L1679.5,886.4 L1681.0,887.6 L1682.5,888.9 L1684.0,890.0 L1685.5,891.2 L1687.0,892.4 L1688.5,893.5 L1690.0,894.6 L1691.5,895.7 L1693.0,896.7 L1694.5,897.8 L1696.0,898.9 L1697.5,899.9 L1699.0,900.9 L1700.5,902.0 L1702.0,903.0 L1703.5,904.0 L1705.0,905.1 L1706.5,906.1 L1708.0,907.1 L1709.5,908.2 L1711.0,909.3 L1712.5,910.3 L1714.0,911.4 L1715.5,912.5 L1717.0,913.6 L1718.5,914.6 L1720.0,915.7 L1721.5,916.8 L1723.0,917.9 L1724.5,919.0 L1726.0,920.1 L1727.5,921.3 L1729.0,922.4 L1730.5,923.5 L1732.0,924.6 L1733.5,925.7 L1735.0,926.9 L1736.5,928.0 L1738.0,929.1 L1739.5,930.3 L1741.0,931.4 L1742.5,932.5 L1744.0,933.7 L1745.5,934.8 L1747.0,935.9 L1748.5,937.1 L1750.0,938.2 L1751.5,939.3 L1753.0,940.5 L1754.5,941.6 L1756.0,942.7 L1757.5,943.9 L1759.0,945.0 L1760.5,946.1 L1762.0,947.2 L1763.5,948.3 L1765.0,949.4 L1766.5,950.6 L1768.0,951.7 L1769.5,952.8 L1771.0,953.9 L1772.5,954.9 L1774.0,956.0 L1775.5,957.1 L1777.0,958.2 L1777.5,958.5" stroke="#ff0000" stroke-width="4.2" stroke-linecap="round" stroke-dasharray="12 18.5" stroke-dashoffset="11.4"/>
</g>
</svg></div></body></html>
